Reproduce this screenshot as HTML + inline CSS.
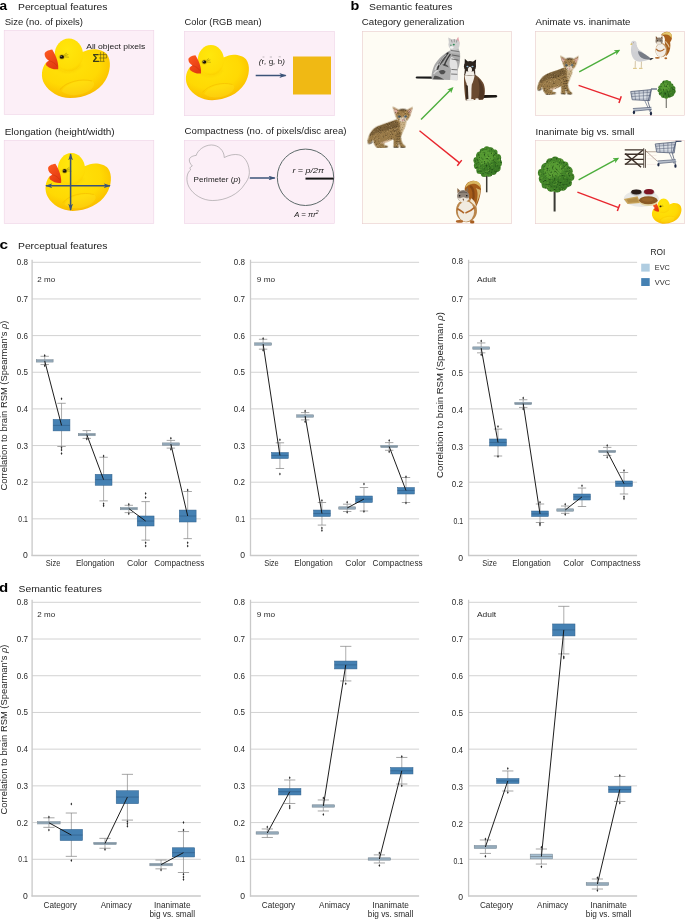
<!DOCTYPE html>
<html lang="en"><head><meta charset="utf-8"><title>Figure</title>
<style>html,body{margin:0;padding:0;background:#fff}body{width:685px;height:919px;overflow:hidden;font-family:"Liberation Sans", sans-serif}svg{display:block;will-change:transform}</style>
</head><body>
<svg width="685" height="919" viewBox="0 0 685 919" font-family='"Liberation Sans", sans-serif'>
<rect width="685" height="919" fill="#fff"/>
<text x="-0.6" y="10" font-size="13.3" textLength="7.6" lengthAdjust="spacingAndGlyphs" font-weight="bold" fill="#000" >a</text>
<text x="18" y="10" font-size="9.8" textLength="89.5" lengthAdjust="spacingAndGlyphs" fill="#222" >Perceptual features</text>
<text x="350.6" y="10" font-size="13.3" textLength="8.8" lengthAdjust="spacingAndGlyphs" font-weight="bold" fill="#000" >b</text>
<text x="369" y="10" font-size="9.8" textLength="83.5" lengthAdjust="spacingAndGlyphs" fill="#222" >Semantic features</text>
<text x="-0.6" y="249.1" font-size="13.5" textLength="8.6" lengthAdjust="spacingAndGlyphs" font-weight="bold" fill="#000" >c</text>
<text x="18" y="248.7" font-size="9.8" textLength="89.5" lengthAdjust="spacingAndGlyphs" fill="#222" >Perceptual features</text>
<text x="-0.9" y="592" font-size="13.5" textLength="9.2" lengthAdjust="spacingAndGlyphs" font-weight="bold" fill="#000" >d</text>
<text x="18.5" y="591.8" font-size="9.8" textLength="83.5" lengthAdjust="spacingAndGlyphs" fill="#222" >Semantic features</text>
<text x="4.7" y="25" font-size="9.3" textLength="78.3" lengthAdjust="spacingAndGlyphs" fill="#222" >Size (no. of pixels)</text>
<text x="184.5" y="25" font-size="9.3" textLength="77" lengthAdjust="spacingAndGlyphs" fill="#222" >Color (RGB mean)</text>
<text x="4.7" y="134.7" font-size="9.3" textLength="110" lengthAdjust="spacingAndGlyphs" fill="#222" >Elongation (height/width)</text>
<text x="184.5" y="134.4" font-size="9.3" textLength="162" lengthAdjust="spacingAndGlyphs" fill="#222" >Compactness (no. of pixels/disc area)</text>
<text x="361.8" y="25" font-size="9.3" textLength="102.5" lengthAdjust="spacingAndGlyphs" fill="#222" >Category generalization</text>
<text x="535.5" y="25" font-size="9.3" textLength="95" lengthAdjust="spacingAndGlyphs" fill="#222" >Animate vs. inanimate</text>
<text x="535.5" y="134.9" font-size="9.3" textLength="99" lengthAdjust="spacingAndGlyphs" fill="#222" >Inanimate big vs. small</text>
<rect x="4.2" y="30.3" width="149.6" height="84" fill="#fceff7" stroke="#efd3e6" stroke-width="0.6"/>
<rect x="184.3" y="31.5" width="150" height="84.2" fill="#fceff7" stroke="#efd3e6" stroke-width="0.6"/>
<rect x="4.2" y="140.3" width="149.6" height="83.2" fill="#fceff7" stroke="#efd3e6" stroke-width="0.6"/>
<rect x="184.3" y="140.3" width="150" height="83.2" fill="#fceff7" stroke="#efd3e6" stroke-width="0.6"/>
<rect x="362.4" y="31.4" width="149.1" height="192.3" fill="#fefcf4" stroke="#e8cccc" stroke-width="0.6"/>
<rect x="535.4" y="31.4" width="149.2" height="83.9" fill="#fefcf4" stroke="#e8cccc" stroke-width="0.6"/>
<rect x="535.4" y="140.4" width="149.2" height="83.3" fill="#fefcf4" stroke="#e8cccc" stroke-width="0.6"/>
<defs>
<radialGradient id="dkG" cx="0.40" cy="0.30" r="0.75">
 <stop offset="0" stop-color="#ffe30a"/><stop offset="0.6" stop-color="#ffd903"/><stop offset="0.88" stop-color="#fbc100"/><stop offset="1" stop-color="#f0a400"/>
</radialGradient>
<radialGradient id="dkH" cx="0.45" cy="0.35" r="0.7">
 <stop offset="0" stop-color="#ffe70c"/><stop offset="0.8" stop-color="#ffdd05"/><stop offset="1" stop-color="#fcd200"/>
</radialGradient>
<linearGradient id="bkG" x1="0" y1="0" x2="0.6" y2="1">
 <stop offset="0" stop-color="#ff5a22"/><stop offset="1" stop-color="#e23a10"/>
</linearGradient>
<radialGradient id="trG" cx="0.42" cy="0.35" r="0.7">
 <stop offset="0" stop-color="#5c9a34"/><stop offset="0.6" stop-color="#3f7d28"/><stop offset="1" stop-color="#2c5f1f"/>
</radialGradient>
<filter id="fur" x="0" y="0" width="100%" height="100%" color-interpolation-filters="sRGB">
 <feTurbulence type="fractalNoise" baseFrequency="0.10" numOctaves="2" seed="4" result="n"/>
 <feColorMatrix in="n" type="matrix" values="0 0 0 0 0.18  0 0 0 0 0.13  0 0 0 0 0.07  0 0 0 -1.6 0.76" result="sp"/>
 <feComposite in="sp" in2="SourceGraphic" operator="in" result="spk"/>
 <feTurbulence type="fractalNoise" baseFrequency="0.09" numOctaves="2" seed="11" result="n2"/>
 <feColorMatrix in="n2" type="matrix" values="0 0 0 0 0.93  0 0 0 0 0.85  0 0 0 0 0.68  0 0 0 -1.6 0.62" result="lt"/>
 <feComposite in="lt" in2="SourceGraphic" operator="in" result="ltk"/>
 <feMerge><feMergeNode in="SourceGraphic"/><feMergeNode in="ltk"/><feMergeNode in="spk"/></feMerge>
</filter>
<filter id="leaf" x="-5%" y="-5%" width="110%" height="110%" color-interpolation-filters="sRGB">
 <feTurbulence type="fractalNoise" baseFrequency="0.55" numOctaves="2" seed="7" result="n"/>
 <feColorMatrix in="n" type="matrix" values="0 0 0 0 0.10  0 0 0 0 0.26  0 0 0 0 0.07  0 0 0 -2.6 1.25" result="sp"/>
 <feComposite in="sp" in2="SourceGraphic" operator="in" result="spk"/>
 <feTurbulence type="fractalNoise" baseFrequency="0.45" numOctaves="2" seed="23" result="n2"/>
 <feColorMatrix in="n2" type="matrix" values="0 0 0 0 0.50  0 0 0 0 0.72  0 0 0 0 0.25  0 0 0 -2.6 1.05" result="lt"/>
 <feComposite in="lt" in2="SourceGraphic" operator="in" result="ltk"/>
 <feMerge><feMergeNode in="SourceGraphic"/><feMergeNode in="ltk"/><feMergeNode in="spk"/></feMerge>
</filter>
<filter id="b1" x="-20%" y="-20%" width="140%" height="140%"><feGaussianBlur stdDeviation="1.2"/></filter>
<filter id="b3" x="-20%" y="-20%" width="140%" height="140%"><feGaussianBlur stdDeviation="3"/></filter>
<filter id="b6" x="-20%" y="-20%" width="140%" height="140%"><feGaussianBlur stdDeviation="6"/></filter>
<marker id="ahB" viewBox="0 0 10 6.6" refX="8.8" refY="3.3" markerWidth="4.8" markerHeight="3.2" orient="auto-start-reverse"><path d="M0,0 L10,3.3 L0,6.6 L2.6,3.3 Z" fill="#3b5378"/></marker>
<marker id="ahG" viewBox="0 0 10 10" refX="7" refY="5" markerWidth="4.4" markerHeight="4.4" orient="auto"><path d="M0,0.5 L10,5 L0,9.5 L2.5,5 Z" fill="#4cae3c"/></marker>

<g id="duck">
 <path d="M110,222 C78,262 72,322 98,368 C130,424 200,466 275,466 C372,466 470,420 516,345 C552,288 560,208 526,164 C500,134 440,124 398,136 L355,152 L300,260 Z" fill="url(#dkG)"/>
 <path d="M215,420 C255,360 350,335 420,350 C455,358 440,395 400,420 C350,450 270,460 215,420 Z" fill="#ffe321" opacity="0.35"/>
 <path d="M205,408 C250,352 350,330 425,350" fill="none" stroke="#f2b705" stroke-width="7" opacity="0.55" filter="url(#b3)"/>
 <ellipse cx="266" cy="170" rx="97" ry="112" fill="url(#dkH)"/>
 <path d="M180,250 C220,300 300,300 352,240" fill="none" stroke="#f5bd00" stroke-width="10" opacity="0.45" filter="url(#b6)"/>
 <path d="M152,134 C122,138 100,150 100,166 C100,186 114,200 130,210 C110,216 104,236 116,246 C136,263 170,273 193,268 C197,238 186,188 152,134 Z" fill="url(#bkG)"/>
 <path d="M130,210 C150,214 172,228 188,250" fill="none" stroke="#c92f0a" stroke-width="5" opacity="0.7"/>
 <ellipse cx="218" cy="184" rx="15" ry="13" fill="#1c1408"/>
 <ellipse cx="218" cy="184" rx="19" ry="16" fill="none" stroke="#8a6a10" stroke-width="3" opacity="0.6"/>
 <circle cx="213" cy="180" r="3.5" fill="#fff" opacity="0.8"/>
 <path d="M236,176 L262,168 M238,184 L266,186 M234,170 L252,158" stroke="#3a2a08" stroke-width="2.5" fill="none" opacity="0.8"/>
</g>
</defs>
<use href="#duck" transform="translate(30.025,30.035) scale(0.14594,0.14595)"/>
<text x="86.2" y="48.8" font-size="7.6" textLength="59" lengthAdjust="spacingAndGlyphs" fill="#222">All object pixels</text>
<text x="92.4" y="61.7" font-size="11.5" font-weight="bold" fill="#3c3c18" textLength="6.8" lengthAdjust="spacingAndGlyphs">Σ</text>
<g stroke="#5a5418" stroke-width="0.6" fill="none"><path d="M99,54.6 H106.6 M99,58 H106.6 M99,61.4 H104.6 M100.6,52.2 V61.4 M103.6,52.2 V61.4 M106.6,54.6 V58"/></g>
<use href="#duck" transform="translate(174.879,37.162) scale(0.13526,0.13514)"/>
<line x1="255.7" y1="75.5" x2="285.7" y2="75.5" stroke="#3b5378" stroke-width="1.5" marker-end="url(#ahB)"/>
<rect x="293" y="56.5" width="38" height="38" fill="#f0b914"/>
<text x="258.8" y="63.6" font-size="7.6" textLength="26.2" lengthAdjust="spacingAndGlyphs" fill="#2a2a2a"><tspan font-style="italic">(</tspan>r<tspan font-style="italic">,</tspan> g<tspan font-style="italic">,</tspan> b<tspan font-style="italic">)</tspan></text>
<path d="M262.6,57 h1.8 M269.8,57 h2.2 M278.6,56.8 h2.2" stroke="#777" stroke-width="0.45"/>
<use href="#duck" transform="translate(34.069,144.877) scale(0.14038,0.14177)"/>
<line x1="70.6" y1="154" x2="70.6" y2="210" stroke="#3b5378" stroke-width="1.5" marker-end="url(#ahB)" marker-start="url(#ahB)"/>
<line x1="46" y1="185.7" x2="110" y2="185.7" stroke="#3b5378" stroke-width="1.5" marker-end="url(#ahB)" marker-start="url(#ahB)"/>
<g transform="translate(176.050,137.105) scale(0.13312,0.13612)" fill="none" stroke="#8a8a8a" stroke-width="4"><path d="M152,134 C160,100 210,58 266,58 C320,58 362,100 362,150 C400,130 440,124 470,130 C500,134 526,164 540,200 C560,260 552,300 516,345 C470,420 372,466 275,466 C200,466 130,424 98,368 C72,322 78,262 110,240 C100,230 104,220 122,212 C106,196 98,180 100,166 C100,150 122,138 152,134 Z"/></g>
<text x="193.6" y="182" font-size="7.6" textLength="47" lengthAdjust="spacingAndGlyphs" fill="#222">Perimeter (<tspan font-style="italic">p</tspan>)</text>
<line x1="249.8" y1="178" x2="274.8" y2="178" stroke="#3b5378" stroke-width="1.5" marker-end="url(#ahB)"/>
<circle cx="305.5" cy="177.3" r="28.2" fill="none" stroke="#5d6a6a" stroke-width="1"/>
<line x1="305.5" y1="178.6" x2="333.6" y2="178.6" stroke="#161616" stroke-width="2"/>
<text x="292.4" y="173.2" font-size="7.6" font-style="italic" textLength="31.5" lengthAdjust="spacingAndGlyphs" fill="#222">r = p/2π</text>
<text x="294.3" y="217.3" font-size="7.6" font-style="italic" textLength="24.3" lengthAdjust="spacingAndGlyphs" fill="#222">A = πr<tspan font-size="5" dy="-3">2</tspan></text>
<use href="#duck" transform="translate(646.723,195.009) scale(0.06346,0.06192)"/>
<defs><g id="kit" filter="url(#fur)">
 <path d="M400,225 C330,255 230,285 170,310 C110,340 70,400 55,470 C45,510 50,530 70,525 C90,520 100,500 115,480 C120,520 140,560 165,580 L235,585 C250,582 300,575 300,560 C295,548 270,545 255,548 C250,535 255,520 265,512 C300,505 340,490 370,470 C372,500 372,540 368,570 L420,578 C435,575 440,565 432,555 L425,500 C440,530 450,560 455,575 L510,578 C525,570 520,555 505,548 C485,540 470,500 460,450 C470,400 510,330 520,290 L525,235 Z" fill="#9a7b49"/>
 <path d="M390,232 C320,258 230,285 170,312 C120,338 85,385 68,440 C120,400 200,370 280,360 C340,350 400,320 440,280 Z" fill="#5f4a2c" opacity="0.55" filter="url(#b6)"/>
 <path d="M200,520 C240,500 300,480 340,470 C330,495 280,515 255,525 Z" fill="#e2c3a8" opacity="0.8" filter="url(#b3)"/>
 <path d="M50,470 C48,500 52,525 68,525 C85,520 95,505 105,490 L112,510 L92,530 L60,535 Z" fill="#2a2014" opacity="0.7"/>
 <path d="M165,575 L235,585 L300,568 L295,578 L170,590 Z" fill="#2e2214" opacity="0.8"/>
 <path d="M370,565 L430,570 L428,582 L372,580 Z M455,568 L515,570 L512,584 L458,582 Z" fill="#2e2214" opacity="0.7"/>
 <path d="M455,250 C490,262 515,262 525,250 C522,300 500,350 470,400 C455,380 445,320 455,250 Z" fill="#d9c29a" opacity="0.75" filter="url(#b3)"/>
 <g stroke="#3a2a16" stroke-width="9" opacity="0.75" fill="none">
  <path d="M405,410 L455,400 M400,440 L455,432 M400,470 L455,465 M405,500 L450,498 M420,530 L465,528"/>
  <path d="M380,330 L440,300 M370,370 L430,345"/>
 </g>
 <polygon points="398,185 358,60 455,112" fill="#a98655"/>
 <polygon points="572,190 609,64 520,112" fill="#a98655"/>
 <polygon points="400,160 372,84 432,118" fill="#e4b0aa"/>
 <polygon points="570,165 597,88 540,120" fill="#e4b0aa"/>
 <ellipse cx="484" cy="172" rx="86" ry="80" fill="#a8844e"/>
 <path d="M430,100 C460,85 510,85 540,100 C520,120 450,120 430,100 Z" fill="#4a3820" opacity="0.8"/>
 <ellipse cx="484" cy="225" rx="45" ry="32" fill="#e8dccb" opacity="0.9"/>
 <ellipse cx="440" cy="186" rx="17" ry="13" fill="#3f6f9a"/>
 <ellipse cx="518" cy="186" rx="17" ry="13" fill="#3f6f9a"/>
 <circle cx="440" cy="186" r="6" fill="#111"/><circle cx="518" cy="186" r="6" fill="#111"/>
 <path d="M470,225 L498,225 L484,244 Z" fill="#d9707c"/>
 <path d="M410,150 L440,165 M555,150 L525,165 M470,120 L470,150 M500,120 L500,150" stroke="#4a3820" stroke-width="6" opacity="0.6"/>
</g></defs>
<defs><g id="sq">
 <path d="M478,500 C520,500 540,450 535,410 C532,385 505,375 480,388 C462,398 458,420 470,440 C485,460 495,480 478,500 Z" fill="#a85e1c"/>
 <path d="M500,385 C520,383 536,395 536,420 C530,410 515,398 498,398 Z" fill="#e6c77a"/>
 <path d="M480,400 C500,410 512,440 505,480" stroke="#6a3510" stroke-width="6" fill="none" opacity="0.6"/>
 <ellipse cx="466" cy="505" rx="40" ry="52" fill="#9a7b5c"/>
 <ellipse cx="462" cy="510" rx="29" ry="44" fill="#f1ece4"/>
 <ellipse cx="455" cy="448" rx="27" ry="25" fill="#8f7c69"/>
 <ellipse cx="455" cy="462" rx="17" ry="12" fill="#e9e1d6"/>
 <polygon points="432,436 428,410 446,428" fill="#7a5a3a"/><polygon points="466,426 476,405 482,432" fill="#7a5a3a"/>
 <circle cx="443" cy="447" r="3.5" fill="#111"/><circle cx="468" cy="447" r="3.5" fill="#111"/>
 <path d="M440,490 C455,500 470,500 486,488" stroke="#b0672a" stroke-width="7" fill="none"/>
 <ellipse cx="440" cy="560" rx="18" ry="7" fill="#b0672a"/><ellipse cx="497" cy="562" rx="14" ry="7" fill="#b0672a"/>
</g></defs>
<defs><g id="cart">
 <path d="M65,188 L300,166 L282,292 L82,282 Z" fill="#c3c9d3"/>
 <path d="M90,205 L270,190 L262,262 L100,258 Z" fill="#dfe3e8" opacity="0.8"/>
 <g stroke="#3d4964" stroke-width="6" fill="none" opacity="0.85">
  <path d="M65,188 L300,166 L282,292 L82,282 Z" stroke-width="9"/>
  <path d="M72,215 L296,196 M76,245 L290,232 M110,184 L120,284 M160,180 L165,286 M210,175 L210,288 M255,170 L250,290"/>
 </g>
 <path d="M295,152 L365,152 L365,164 L300,166 Z" fill="#2f3f5f"/>
 <path d="M300,166 L262,300 L300,430" stroke="#4a5670" stroke-width="9" fill="none"/>
 <path d="M225,290 L285,420" stroke="#5d6a84" stroke-width="8" fill="none"/>
 <path d="M90,382 L300,368 L305,392 L100,412 Z" fill="#b9c1cc"/>
 <path d="M90,382 L300,368 M100,412 L305,392" stroke="#3d4964" stroke-width="7" fill="none"/>
 <ellipse cx="102" cy="426" rx="13" ry="20" fill="#1f2a44"/>
 <ellipse cx="296" cy="440" rx="13" ry="21" fill="#1f2a44"/>
</g></defs>
<use href="#kit" transform="translate(363.560,101.803) scale(0.08089,0.07931)"/>
<line x1="421" y1="119.6" x2="452.2" y2="88.3" stroke="#4cae3c" stroke-width="1.4" marker-end="url(#ahG)"/>
<line x1="419.5" y1="130.7" x2="459.5" y2="162.9" stroke="#e8262e" stroke-width="1.4"/>
<line x1="461.76" y1="160.10" x2="457.24" y2="165.70" stroke="#e8262e" stroke-width="1.5"/>
<g transform="translate(412,32) scale(0.13139)"><path d="M150,338 L35,338 C25,340 25,352 38,354 L155,356 Z" fill="#1a1a1a"/><path d="M300,135 C250,160 200,200 172,250 C150,295 145,340 152,362 L292,366 L296,300 L300,366 L345,368 L348,290 C365,250 370,200 365,150 Z" fill="#a9a9a9"/><path d="M285,150 C240,180 205,225 190,275 C205,262 235,235 255,200 Z M205,300 C222,286 246,286 256,302 C246,326 218,332 205,300 Z M170,335 C190,326 225,350 245,362 L160,360 Z M230,250 C250,240 270,250 280,270 C262,262 245,262 230,250 Z" fill="#3a3a3a" opacity="0.8"/><path d="M275,158 C245,185 222,215 208,250 M292,168 C270,200 255,225 248,250 M232,205 C215,230 200,262 192,290" stroke="#1e1e1e" stroke-width="11" fill="none" opacity="0.8"/><path d="M262,170 C235,195 215,225 205,255 M175,290 C180,270 190,255 200,245 M165,320 C175,300 190,295 200,290" stroke="#ececec" stroke-width="9" fill="none" opacity="0.7"/><path d="M300,190 C330,200 350,230 345,270 L348,366 L296,366 L296,280 C280,250 285,210 300,190 Z" fill="#e2e2e2"/><path d="M305,175 L362,185 M300,205 L355,215 M300,285 L345,288 M298,320 L345,322" stroke="#3a3a3a" stroke-width="7" opacity="0.7"/><path d="M290,118 L352,118 L368,165 L292,160 Z" fill="#bcbcbc"/><path d="M296,140 L360,150" stroke="#444" stroke-width="6" opacity="0.7"/><polygon points="283,95 276,42 318,62" fill="#c9c9c9"/><polygon points="335,62 352,36 364,92" fill="#e3a6ae"/><ellipse cx="320" cy="95" rx="43" ry="42" fill="#cfcfcf"/><path d="M300,60 L305,80 M322,55 L322,78 M342,60 L338,80" stroke="#555" stroke-width="5" opacity="0.7"/><ellipse cx="318" cy="96" rx="8" ry="7" fill="#2d8a55"/><circle cx="296" cy="100" r="5" fill="#2d8a55"/><ellipse cx="302" cy="118" rx="14" ry="10" fill="#f2f2f2"/></g>
<g transform="translate(412,32) scale(0.13139)"><path d="M540,480 L640,480 C652,482 652,496 640,498 L540,502 Z" fill="#1c1814"/><path d="M398,320 C392,380 400,460 408,520 L540,516 C560,480 560,420 540,385 C520,350 490,330 470,320 Z" fill="#6a4a30"/><path d="M500,350 C540,390 555,450 545,510 L500,515 C520,460 515,400 500,350 Z" fill="#4a3222" opacity="0.8"/><path d="M400,315 C420,335 460,335 478,315 C475,350 465,380 455,400 C450,440 455,480 450,518 L425,518 C425,470 420,420 415,390 C405,370 400,340 400,315 Z" fill="#f3efe8"/><path d="M408,400 L412,520 L430,520 L425,410 Z" fill="#3a2a1e"/><path d="M402,285 L480,285 L482,330 L398,330 Z" fill="#3a2c22"/><path d="M415,295 L468,295 L476,328 L404,328 Z" fill="#f3efe8"/><polygon points="400,260 402,203 432,232" fill="#231c17"/><polygon points="455,232 488,210 484,268" fill="#231c17"/><ellipse cx="441" cy="262" rx="46" ry="42" fill="#2c241e"/><path d="M428,275 C435,262 447,262 454,275 C462,295 452,308 441,308 C430,308 420,295 428,275 Z" fill="#f3efe8"/><ellipse cx="422" cy="262" rx="8" ry="6" fill="#9cc3dc"/><ellipse cx="460" cy="262" rx="8" ry="6" fill="#9cc3dc"/><ellipse cx="428" cy="516" rx="14" ry="7" fill="#f3efe8"/><ellipse cx="458" cy="516" rx="14" ry="7" fill="#f3efe8"/><ellipse cx="495" cy="512" rx="14" ry="7" fill="#f3efe8"/></g>
<rect x="485.95" y="161.70" width="1.5" height="30.60" fill="#3a3a34"/>
<g transform="translate(487.8,161.7)" filter="url(#leaf)">
<ellipse cx="0" cy="1.87" rx="12.56" ry="11.86" fill="#4a8e2c"/>
<ellipse cx="0" cy="-4.68" rx="9.05" ry="9.67" fill="#4a8e2c"/>
<ellipse cx="10.47" cy="1.20" rx="3.71" ry="3.97" fill="#44862a"/>
<ellipse cx="9.10" cy="6.03" rx="3.80" ry="4.06" fill="#44862a"/>
<ellipse cx="5.83" cy="9.80" rx="3.02" ry="3.22" fill="#44862a"/>
<ellipse cx="1.17" cy="10.60" rx="4.14" ry="4.43" fill="#44862a"/>
<ellipse cx="-3.78" cy="11.75" rx="3.26" ry="3.49" fill="#44862a"/>
<ellipse cx="-7.82" cy="8.45" rx="3.61" ry="3.85" fill="#44862a"/>
<ellipse cx="-10.28" cy="3.91" rx="3.62" ry="3.86" fill="#44862a"/>
<ellipse cx="-11.20" cy="-1.30" rx="3.14" ry="3.35" fill="#44862a"/>
<ellipse cx="-7.68" cy="-5.76" rx="4.19" ry="4.47" fill="#44862a"/>
<ellipse cx="-4.35" cy="-9.52" rx="4.00" ry="4.28" fill="#44862a"/>
<ellipse cx="-0.96" cy="-12.34" rx="3.01" ry="3.22" fill="#44862a"/>
<ellipse cx="2.45" cy="-10.50" rx="3.78" ry="4.04" fill="#44862a"/>
<ellipse cx="6.80" cy="-8.96" rx="2.97" ry="3.17" fill="#44862a"/>
<ellipse cx="9.75" cy="-3.94" rx="3.61" ry="3.86" fill="#44862a"/>
<ellipse cx="-2.19" cy="-3.90" rx="7.30" ry="7.80" fill="#5da236" opacity="0.7"/>
<ellipse cx="2.92" cy="6.24" rx="8.76" ry="6.55" fill="#2f6a20" opacity="0.45"/>
</g>
<g transform="translate(445,140) scale(0.10219)"><path d="M195,500 C185,450 215,405 265,400 C320,395 360,430 352,490 C345,560 325,620 300,660 L235,640 C250,590 230,540 195,500 Z" fill="#a55c1a"/><path d="M200,470 C200,430 235,402 275,400 C325,398 358,432 352,480 C340,445 300,425 265,430 C235,435 212,452 200,470 Z" fill="#d8b45e"/><path d="M300,470 C325,500 325,560 300,640 C320,590 345,540 348,490 Z" fill="#dcc07a" opacity="0.9"/><path d="M245,450 C280,470 290,540 270,600" stroke="#6a3510" stroke-width="22" fill="none" opacity="0.55"/><ellipse cx="210" cy="692" rx="103" ry="112" fill="#b9854a"/><ellipse cx="205" cy="700" rx="80" ry="100" fill="#f1ebe0"/><path d="M255,570 C285,590 305,620 300,650 C280,630 262,610 245,600 Z" fill="#f3e6cf"/><polygon points="122,520 120,470 150,500" fill="#8a6a4a"/><polygon points="200,492 222,465 232,512" fill="#8a6a4a"/><ellipse cx="178" cy="548" rx="60" ry="58" fill="#8f8378"/><path d="M125,560 C135,600 165,615 180,615 C200,615 228,600 235,560 C215,585 200,560 180,560 C160,560 145,585 125,560 Z" fill="#efe8dc"/><path d="M135,520 C150,500 205,500 222,520 C200,512 160,512 135,520 Z" fill="#5f5650"/><circle cx="143" cy="545" r="8" fill="#141414"/><circle cx="213" cy="545" r="8" fill="#141414"/><path d="M172,575 L186,575 L179,600 Z" fill="#5a3a2a"/><path d="M120,670 C150,690 175,705 185,715 M290,660 C260,690 230,705 200,715" stroke="#b0672a" stroke-width="16" fill="none"/><ellipse cx="142" cy="797" rx="36" ry="13" fill="#b0672a"/><ellipse cx="266" cy="802" rx="22" ry="16" fill="#a85e20"/></g>
<use href="#kit" transform="translate(533.665,51.105) scale(0.07411,0.07452)"/>
<line x1="579.2" y1="71.8" x2="618.7" y2="50.7" stroke="#4cae3c" stroke-width="1.4" marker-end="url(#ahG)"/>
<line x1="578.6" y1="85.3" x2="620.1" y2="99.6" stroke="#e8262e" stroke-width="1.4"/>
<line x1="621.27" y1="96.20" x2="618.93" y2="103.00" stroke="#e8262e" stroke-width="1.5"/>
<g transform="translate(625,30) scale(0.08759)"><path d="M118,355 L116,432 M188,358 L186,432" stroke="#b8a070" stroke-width="7"/><path d="M92,438 L135,438 M160,438 L200,438" stroke="#c9a648" stroke-width="8"/><path d="M255,318 L328,322 L290,345 Z" fill="#1e1e22"/><path d="M72,190 C60,250 75,320 130,355 C180,372 240,352 290,335 C250,290 200,250 160,225 C140,200 135,180 130,165 Z" fill="#cfd0d4"/><path d="M150,240 C200,255 260,295 300,330 C260,345 200,335 170,300 C155,280 148,260 150,240 Z" fill="#777c86"/><ellipse cx="100" cy="152" rx="32" ry="30" fill="#d6d6d8"/><path d="M72,190 C75,170 80,160 90,150 L132,165 C135,190 140,205 160,225 L100,260 Z" fill="#d3d3d6"/><path d="M55,162 L82,150 L82,168 Z" fill="#d4b030"/><circle cx="98" cy="146" r="4" fill="#5a2a2a"/></g>
<g transform="translate(625,30) scale(0.08759)"><path d="M470,300 C510,260 525,200 515,140 C545,100 545,50 510,28 C480,10 430,22 410,60 C440,60 460,80 455,120 C450,160 470,200 470,300 Z" fill="#a85f1c"/><path d="M420,50 C440,22 490,12 520,35 C540,55 538,80 530,95 C520,60 480,40 440,55 Z" fill="#e4c86e"/><path d="M462,130 C480,150 500,170 505,200" stroke="#f0e0c0" stroke-width="12" fill="none" opacity="0.8"/><ellipse cx="415" cy="230" rx="68" ry="82" fill="#b98a55"/><ellipse cx="408" cy="232" rx="59" ry="75" fill="#f2ede5"/><ellipse cx="390" cy="125" rx="42" ry="40" fill="#8c7c6c"/><ellipse cx="385" cy="150" rx="28" ry="18" fill="#e8e0d4"/><polygon points="352,105 352,68 375,95" fill="#7a5232"/><polygon points="408,92 425,65 432,102" fill="#7a5232"/><circle cx="370" cy="120" r="5" fill="#111"/><circle cx="410" cy="118" r="5" fill="#111"/><path d="M355,215 C380,250 420,250 450,215" stroke="#b0672a" stroke-width="12" fill="none"/><ellipse cx="370" cy="318" rx="28" ry="10" fill="#b0672a"/><ellipse cx="466" cy="322" rx="16" ry="12" fill="#b0672a"/></g>
<use href="#cart" transform="translate(625.007,75.062) scale(0.08759)"/>
<rect x="665.80" y="89.40" width="0.8" height="18.60" fill="#3a3a34"/>
<g transform="translate(666.6,89.4)" filter="url(#leaf)">
<ellipse cx="0" cy="1.12" rx="8.00" ry="7.07" fill="#4a8e2c"/>
<ellipse cx="0" cy="-2.79" rx="5.77" ry="5.77" fill="#4a8e2c"/>
<ellipse cx="6.54" cy="1.88" rx="2.55" ry="2.55" fill="#44862a"/>
<ellipse cx="4.91" cy="4.38" rx="2.74" ry="2.74" fill="#44862a"/>
<ellipse cx="2.35" cy="5.67" rx="2.72" ry="2.72" fill="#44862a"/>
<ellipse cx="-0.39" cy="7.15" rx="2.29" ry="2.29" fill="#44862a"/>
<ellipse cx="-3.36" cy="6.09" rx="2.46" ry="2.46" fill="#44862a"/>
<ellipse cx="-5.85" cy="4.16" rx="1.97" ry="1.97" fill="#44862a"/>
<ellipse cx="-7.00" cy="1.20" rx="2.09" ry="2.09" fill="#44862a"/>
<ellipse cx="-5.93" cy="-1.78" rx="2.39" ry="2.39" fill="#44862a"/>
<ellipse cx="-4.34" cy="-4.63" rx="2.06" ry="2.06" fill="#44862a"/>
<ellipse cx="-1.86" cy="-6.11" rx="2.71" ry="2.71" fill="#44862a"/>
<ellipse cx="0.28" cy="-7.33" rx="2.01" ry="2.01" fill="#44862a"/>
<ellipse cx="2.64" cy="-6.35" rx="1.99" ry="1.99" fill="#44862a"/>
<ellipse cx="4.85" cy="-3.97" rx="1.98" ry="1.98" fill="#44862a"/>
<ellipse cx="6.08" cy="-1.06" rx="2.67" ry="2.67" fill="#44862a"/>
<ellipse cx="-1.40" cy="-2.33" rx="4.65" ry="4.65" fill="#5da236" opacity="0.7"/>
<ellipse cx="1.86" cy="3.72" rx="5.58" ry="3.91" fill="#2f6a20" opacity="0.45"/>
</g>
<rect x="553.60" y="175.00" width="2.0" height="36.50" fill="#3a3a34"/>
<g transform="translate(556,175)" filter="url(#leaf)">
<ellipse cx="0" cy="2.21" rx="16.00" ry="13.98" fill="#4a8e2c"/>
<ellipse cx="0" cy="-5.52" rx="11.53" ry="11.41" fill="#4a8e2c"/>
<ellipse cx="14.36" cy="2.08" rx="4.00" ry="3.96" fill="#44862a"/>
<ellipse cx="12.03" cy="8.04" rx="3.85" ry="3.81" fill="#44862a"/>
<ellipse cx="6.72" cy="11.40" rx="4.40" ry="4.35" fill="#44862a"/>
<ellipse cx="1.03" cy="12.87" rx="4.66" ry="4.61" fill="#44862a"/>
<ellipse cx="-4.78" cy="12.21" rx="4.53" ry="4.48" fill="#44862a"/>
<ellipse cx="-10.47" cy="9.69" rx="3.89" ry="3.85" fill="#44862a"/>
<ellipse cx="-12.00" cy="3.72" rx="5.26" ry="5.20" fill="#44862a"/>
<ellipse cx="-13.97" cy="-2.06" rx="4.14" ry="4.09" fill="#44862a"/>
<ellipse cx="-9.37" cy="-7.17" rx="5.48" ry="5.42" fill="#44862a"/>
<ellipse cx="-5.54" cy="-12.38" rx="4.46" ry="4.41" fill="#44862a"/>
<ellipse cx="-0.83" cy="-14.77" rx="3.81" ry="3.77" fill="#44862a"/>
<ellipse cx="3.59" cy="-12.54" rx="4.26" ry="4.21" fill="#44862a"/>
<ellipse cx="8.57" cy="-9.55" rx="3.94" ry="3.90" fill="#44862a"/>
<ellipse cx="11.50" cy="-3.74" rx="5.24" ry="5.18" fill="#44862a"/>
<ellipse cx="-2.79" cy="-4.60" rx="9.30" ry="9.20" fill="#5da236" opacity="0.7"/>
<ellipse cx="3.72" cy="7.36" rx="11.16" ry="7.73" fill="#2f6a20" opacity="0.45"/>
</g>
<line x1="578.6" y1="179.8" x2="617.6" y2="158.7" stroke="#4cae3c" stroke-width="1.4" marker-end="url(#ahG)"/>
<line x1="577.4" y1="192.2" x2="618.6" y2="207.6" stroke="#e8262e" stroke-width="1.4"/>
<line x1="619.86" y1="204.23" x2="617.34" y2="210.97" stroke="#e8262e" stroke-width="1.5"/>
<g transform="translate(620,136) scale(0.09489)" stroke="#3d3028" fill="none"><path d="M50,146 H250 M50,192 H250 M50,246 H250 M50,296 H250" stroke-width="15"/><path d="M250,128 V336 M268,140 V336" stroke-width="9"/><path d="M56,186 L222,330 M56,300 L240,150" stroke-width="15"/><path d="M265,150 L392,265 M265,166 H382" stroke="#6a4a3a" stroke-width="5"/><path d="M285,205 H385 M285,240 H385 M285,300 H385" stroke="#e5c8c8" stroke-width="3"/></g>
<use href="#cart" transform="translate(649.507,127.462) scale(0.08759)"/>
<g transform="translate(620,182) scale(0.09489)"><ellipse cx="225" cy="175" rx="185" ry="88" fill="#e9e9e6"/><ellipse cx="172" cy="112" rx="62" ry="33" fill="#bdbdbd"/><ellipse cx="172" cy="106" rx="55" ry="26" fill="#2a1d18"/><ellipse cx="305" cy="108" rx="60" ry="35" fill="#c4c4c4"/><ellipse cx="305" cy="102" rx="52" ry="28" fill="#7d1424"/><path d="M40,178 L185,150 L215,222 L80,232 Z" fill="#c9a55c"/><path d="M70,185 L180,165 L195,210 L90,218 Z" fill="#a8813c" opacity="0.6"/><ellipse cx="300" cy="205" rx="98" ry="48" fill="#e3d5a6"/><ellipse cx="298" cy="192" rx="98" ry="42" fill="#8a5a25"/><ellipse cx="290" cy="185" rx="60" ry="22" fill="#a06a2c" opacity="0.7"/></g>
<line x1="32.1" x2="200.8" y1="518.85" y2="518.85" stroke="#d2d2d2" stroke-width="1"/>
<line x1="32.1" x2="200.8" y1="482.20" y2="482.20" stroke="#d2d2d2" stroke-width="1"/>
<line x1="32.1" x2="200.8" y1="445.55" y2="445.55" stroke="#d2d2d2" stroke-width="1"/>
<line x1="32.1" x2="200.8" y1="408.90" y2="408.90" stroke="#d2d2d2" stroke-width="1"/>
<line x1="32.1" x2="200.8" y1="372.25" y2="372.25" stroke="#d2d2d2" stroke-width="1"/>
<line x1="32.1" x2="200.8" y1="335.60" y2="335.60" stroke="#d2d2d2" stroke-width="1"/>
<line x1="32.1" x2="200.8" y1="298.95" y2="298.95" stroke="#d2d2d2" stroke-width="1"/>
<line x1="32.1" x2="200.8" y1="262.30" y2="262.30" stroke="#d2d2d2" stroke-width="1"/>
<line x1="32.1" x2="32.1" y1="259.80" y2="556.10" stroke="#c9c9c9" stroke-width="1.3"/>
<line x1="31.5" x2="200.8" y1="555.50" y2="555.50" stroke="#c9c9c9" stroke-width="1.3"/>
<text x="27.9" y="558.45" font-size="8.2" textLength="4.8" lengthAdjust="spacingAndGlyphs" text-anchor="end" fill="#2a2a2a" >0</text>
<text x="27.9" y="521.8" font-size="8.2" textLength="9.6" lengthAdjust="spacingAndGlyphs" text-anchor="end" fill="#2a2a2a" >0.1</text>
<text x="27.9" y="485.15" font-size="8.2" textLength="11.2" lengthAdjust="spacingAndGlyphs" text-anchor="end" fill="#2a2a2a" >0.2</text>
<text x="27.9" y="448.5" font-size="8.2" textLength="11.2" lengthAdjust="spacingAndGlyphs" text-anchor="end" fill="#2a2a2a" >0.3</text>
<text x="27.9" y="411.85" font-size="8.2" textLength="11.2" lengthAdjust="spacingAndGlyphs" text-anchor="end" fill="#2a2a2a" >0.4</text>
<text x="27.9" y="375.2" font-size="8.2" textLength="11.2" lengthAdjust="spacingAndGlyphs" text-anchor="end" fill="#2a2a2a" >0.5</text>
<text x="27.9" y="338.55" font-size="8.2" textLength="11.2" lengthAdjust="spacingAndGlyphs" text-anchor="end" fill="#2a2a2a" >0.6</text>
<text x="27.9" y="301.9" font-size="8.2" textLength="11.2" lengthAdjust="spacingAndGlyphs" text-anchor="end" fill="#2a2a2a" >0.7</text>
<text x="27.9" y="265.25" font-size="8.2" textLength="11.2" lengthAdjust="spacingAndGlyphs" text-anchor="end" fill="#2a2a2a" >0.8</text>
<text x="37.3" y="281.8" font-size="8.0" textLength="17.8" lengthAdjust="spacingAndGlyphs" fill="#2a2a2a" >2 mo</text>
<text x="53.12" y="566.4" font-size="8.2" textLength="14.6" lengthAdjust="spacingAndGlyphs" text-anchor="middle" fill="#2a2a2a" >Size</text>
<line x1="44.71" x2="44.71" y1="356.31" y2="364.55" stroke="#808080" stroke-width="0.65"/>
<line x1="40.51" x2="48.92" y1="364.55" y2="364.55" stroke="#808080" stroke-width="0.7"/>
<line x1="40.51" x2="48.92" y1="356.31" y2="356.31" stroke="#808080" stroke-width="0.7"/>
<rect x="36.30" y="359.68" width="16.82" height="2.42" fill="#a6c0d3" stroke="#74828d" stroke-width="0.5"/>
<line x1="36.30" x2="53.12" y1="360.89" y2="360.89" stroke="#74828d" stroke-width="0.7"/>
<path d="M44.71,353.89 l0.85,1.5 l-0.85,1.5 l-0.85,-1.5 Z" fill="#2a2a2a"/>
<path d="M44.71,364.15 l0.85,1.5 l-0.85,1.5 l-0.85,-1.5 Z" fill="#2a2a2a"/>
<line x1="61.54" x2="61.54" y1="403.29" y2="446.50" stroke="#808080" stroke-width="0.65"/>
<line x1="57.33" x2="65.74" y1="446.50" y2="446.50" stroke="#808080" stroke-width="0.7"/>
<line x1="57.33" x2="65.74" y1="403.29" y2="403.29" stroke="#808080" stroke-width="0.7"/>
<rect x="53.12" y="419.42" width="16.82" height="11.47" fill="#4581b3" stroke="#31608b" stroke-width="0.5"/>
<line x1="53.12" x2="69.95" y1="425.39" y2="425.39" stroke="#31608b" stroke-width="0.7"/>
<path d="M61.54,397.32 l0.85,1.5 l-0.85,1.5 l-0.85,-1.5 Z" fill="#2a2a2a"/>
<path d="M61.54,446.25 l0.85,1.5 l-0.85,1.5 l-0.85,-1.5 Z" fill="#2a2a2a"/>
<path d="M61.54,448.45 l0.85,1.5 l-0.85,1.5 l-0.85,-1.5 Z" fill="#2a2a2a"/>
<path d="M61.54,452.11 l0.85,1.5 l-0.85,1.5 l-0.85,-1.5 Z" fill="#2a2a2a"/>
<text x="95.18" y="566.4" font-size="8.2" textLength="38.5" lengthAdjust="spacingAndGlyphs" text-anchor="middle" fill="#2a2a2a" >Elongation</text>
<line x1="86.77" x2="86.77" y1="430.60" y2="438.40" stroke="#808080" stroke-width="0.65"/>
<line x1="82.56" x2="90.97" y1="438.40" y2="438.40" stroke="#808080" stroke-width="0.7"/>
<line x1="82.56" x2="90.97" y1="430.60" y2="430.60" stroke="#808080" stroke-width="0.7"/>
<rect x="78.36" y="433.35" width="16.82" height="2.42" fill="#a6c0d3" stroke="#74828d" stroke-width="0.5"/>
<line x1="78.36" x2="95.18" y1="434.56" y2="434.56" stroke="#74828d" stroke-width="0.7"/>
<path d="M86.77,437.45 l0.85,1.5 l-0.85,1.5 l-0.85,-1.5 Z" fill="#2a2a2a"/>
<line x1="103.59" x2="103.59" y1="457.28" y2="500.89" stroke="#808080" stroke-width="0.65"/>
<line x1="99.38" x2="107.79" y1="500.89" y2="500.89" stroke="#808080" stroke-width="0.7"/>
<line x1="99.38" x2="107.79" y1="457.28" y2="457.28" stroke="#808080" stroke-width="0.7"/>
<rect x="95.18" y="474.32" width="16.82" height="11.00" fill="#4581b3" stroke="#31608b" stroke-width="0.5"/>
<line x1="95.18" x2="112.00" y1="479.63" y2="479.63" stroke="#31608b" stroke-width="0.7"/>
<path d="M103.59,454.50 l0.85,1.5 l-0.85,1.5 l-0.85,-1.5 Z" fill="#2a2a2a"/>
<path d="M103.59,502.32 l0.85,1.5 l-0.85,1.5 l-0.85,-1.5 Z" fill="#2a2a2a"/>
<path d="M103.59,504.16 l0.85,1.5 l-0.85,1.5 l-0.85,-1.5 Z" fill="#2a2a2a"/>
<text x="137.23" y="566.4" font-size="8.2" textLength="20.5" lengthAdjust="spacingAndGlyphs" text-anchor="middle" fill="#2a2a2a" >Color</text>
<line x1="128.82" x2="128.82" y1="505.29" y2="512.62" stroke="#808080" stroke-width="0.65"/>
<line x1="124.61" x2="133.02" y1="512.62" y2="512.62" stroke="#808080" stroke-width="0.7"/>
<line x1="124.61" x2="133.02" y1="505.29" y2="505.29" stroke="#808080" stroke-width="0.7"/>
<rect x="120.41" y="507.38" width="16.82" height="2.42" fill="#a6c0d3" stroke="#74828d" stroke-width="0.5"/>
<line x1="120.41" x2="137.23" y1="508.59" y2="508.59" stroke="#74828d" stroke-width="0.7"/>
<path d="M128.82,502.69 l0.85,1.5 l-0.85,1.5 l-0.85,-1.5 Z" fill="#2a2a2a"/>
<path d="M128.82,512.22 l0.85,1.5 l-0.85,1.5 l-0.85,-1.5 Z" fill="#2a2a2a"/>
<line x1="145.64" x2="145.64" y1="501.62" y2="540.11" stroke="#808080" stroke-width="0.65"/>
<line x1="141.43" x2="149.84" y1="540.11" y2="540.11" stroke="#808080" stroke-width="0.7"/>
<line x1="141.43" x2="149.84" y1="501.62" y2="501.62" stroke="#808080" stroke-width="0.7"/>
<rect x="137.23" y="515.99" width="16.82" height="10.01" fill="#4581b3" stroke="#31608b" stroke-width="0.5"/>
<line x1="137.23" x2="154.05" y1="521.05" y2="521.05" stroke="#31608b" stroke-width="0.7"/>
<path d="M145.64,492.06 l0.85,1.5 l-0.85,1.5 l-0.85,-1.5 Z" fill="#2a2a2a"/>
<path d="M145.64,496.09 l0.85,1.5 l-0.85,1.5 l-0.85,-1.5 Z" fill="#2a2a2a"/>
<path d="M145.64,541.17 l0.85,1.5 l-0.85,1.5 l-0.85,-1.5 Z" fill="#2a2a2a"/>
<path d="M145.64,544.47 l0.85,1.5 l-0.85,1.5 l-0.85,-1.5 Z" fill="#2a2a2a"/>
<text x="179.28" y="566.4" font-size="8.2" textLength="50" lengthAdjust="spacingAndGlyphs" text-anchor="middle" fill="#2a2a2a" >Compactness</text>
<line x1="170.87" x2="170.87" y1="440.42" y2="448.12" stroke="#808080" stroke-width="0.65"/>
<line x1="166.66" x2="175.07" y1="448.12" y2="448.12" stroke="#808080" stroke-width="0.7"/>
<line x1="166.66" x2="175.07" y1="440.42" y2="440.42" stroke="#808080" stroke-width="0.7"/>
<rect x="162.46" y="442.87" width="16.82" height="2.42" fill="#a6c0d3" stroke="#74828d" stroke-width="0.5"/>
<line x1="162.46" x2="179.28" y1="444.08" y2="444.08" stroke="#74828d" stroke-width="0.7"/>
<path d="M170.87,436.72 l0.85,1.5 l-0.85,1.5 l-0.85,-1.5 Z" fill="#2a2a2a"/>
<path d="M170.87,447.72 l0.85,1.5 l-0.85,1.5 l-0.85,-1.5 Z" fill="#2a2a2a"/>
<line x1="187.69" x2="187.69" y1="491.51" y2="538.64" stroke="#808080" stroke-width="0.65"/>
<line x1="183.48" x2="191.89" y1="538.64" y2="538.64" stroke="#808080" stroke-width="0.7"/>
<line x1="183.48" x2="191.89" y1="491.51" y2="491.51" stroke="#808080" stroke-width="0.7"/>
<rect x="179.28" y="510.05" width="16.82" height="11.95" fill="#4581b3" stroke="#31608b" stroke-width="0.5"/>
<line x1="179.28" x2="196.09" y1="515.99" y2="515.99" stroke="#31608b" stroke-width="0.7"/>
<path d="M187.69,488.51 l0.85,1.5 l-0.85,1.5 l-0.85,-1.5 Z" fill="#2a2a2a"/>
<path d="M187.69,541.17 l0.85,1.5 l-0.85,1.5 l-0.85,-1.5 Z" fill="#2a2a2a"/>
<path d="M187.69,544.47 l0.85,1.5 l-0.85,1.5 l-0.85,-1.5 Z" fill="#2a2a2a"/>
<line x1="44.71" y1="360.89" x2="61.54" y2="425.39" stroke="#111" stroke-width="0.95"/>
<line x1="86.77" y1="434.56" x2="103.59" y2="479.63" stroke="#111" stroke-width="0.95"/>
<line x1="128.82" y1="508.59" x2="145.64" y2="521.05" stroke="#111" stroke-width="0.95"/>
<line x1="170.87" y1="444.08" x2="187.69" y2="515.99" stroke="#111" stroke-width="0.95"/>
<line x1="250.5" x2="419.1" y1="518.85" y2="518.85" stroke="#d2d2d2" stroke-width="1"/>
<line x1="250.5" x2="419.1" y1="482.20" y2="482.20" stroke="#d2d2d2" stroke-width="1"/>
<line x1="250.5" x2="419.1" y1="445.55" y2="445.55" stroke="#d2d2d2" stroke-width="1"/>
<line x1="250.5" x2="419.1" y1="408.90" y2="408.90" stroke="#d2d2d2" stroke-width="1"/>
<line x1="250.5" x2="419.1" y1="372.25" y2="372.25" stroke="#d2d2d2" stroke-width="1"/>
<line x1="250.5" x2="419.1" y1="335.60" y2="335.60" stroke="#d2d2d2" stroke-width="1"/>
<line x1="250.5" x2="419.1" y1="298.95" y2="298.95" stroke="#d2d2d2" stroke-width="1"/>
<line x1="250.5" x2="419.1" y1="262.30" y2="262.30" stroke="#d2d2d2" stroke-width="1"/>
<line x1="250.5" x2="250.5" y1="259.80" y2="556.10" stroke="#c9c9c9" stroke-width="1.3"/>
<line x1="249.9" x2="419.1" y1="555.50" y2="555.50" stroke="#c9c9c9" stroke-width="1.3"/>
<text x="245.0" y="558.45" font-size="8.2" textLength="4.8" lengthAdjust="spacingAndGlyphs" text-anchor="end" fill="#2a2a2a" >0</text>
<text x="245.0" y="521.8" font-size="8.2" textLength="9.6" lengthAdjust="spacingAndGlyphs" text-anchor="end" fill="#2a2a2a" >0.1</text>
<text x="245.0" y="485.15" font-size="8.2" textLength="11.2" lengthAdjust="spacingAndGlyphs" text-anchor="end" fill="#2a2a2a" >0.2</text>
<text x="245.0" y="448.5" font-size="8.2" textLength="11.2" lengthAdjust="spacingAndGlyphs" text-anchor="end" fill="#2a2a2a" >0.3</text>
<text x="245.0" y="411.85" font-size="8.2" textLength="11.2" lengthAdjust="spacingAndGlyphs" text-anchor="end" fill="#2a2a2a" >0.4</text>
<text x="245.0" y="375.2" font-size="8.2" textLength="11.2" lengthAdjust="spacingAndGlyphs" text-anchor="end" fill="#2a2a2a" >0.5</text>
<text x="245.0" y="338.55" font-size="8.2" textLength="11.2" lengthAdjust="spacingAndGlyphs" text-anchor="end" fill="#2a2a2a" >0.6</text>
<text x="245.0" y="301.9" font-size="8.2" textLength="11.2" lengthAdjust="spacingAndGlyphs" text-anchor="end" fill="#2a2a2a" >0.7</text>
<text x="245.0" y="265.25" font-size="8.2" textLength="11.2" lengthAdjust="spacingAndGlyphs" text-anchor="end" fill="#2a2a2a" >0.8</text>
<text x="256.8" y="281.8" font-size="8.0" textLength="18.3" lengthAdjust="spacingAndGlyphs" fill="#2a2a2a" >9 mo</text>
<text x="271.51" y="566.4" font-size="8.2" textLength="14.6" lengthAdjust="spacingAndGlyphs" text-anchor="middle" fill="#2a2a2a" >Size</text>
<line x1="263.11" x2="263.11" y1="339.27" y2="349.16" stroke="#808080" stroke-width="0.65"/>
<line x1="258.90" x2="267.31" y1="349.16" y2="349.16" stroke="#808080" stroke-width="0.7"/>
<line x1="258.90" x2="267.31" y1="339.27" y2="339.27" stroke="#808080" stroke-width="0.7"/>
<rect x="254.70" y="342.82" width="16.81" height="2.42" fill="#a6c0d3" stroke="#74828d" stroke-width="0.5"/>
<line x1="254.70" x2="271.51" y1="344.03" y2="344.03" stroke="#74828d" stroke-width="0.7"/>
<path d="M263.11,337.03 l0.85,1.5 l-0.85,1.5 l-0.85,-1.5 Z" fill="#2a2a2a"/>
<path d="M263.11,348.76 l0.85,1.5 l-0.85,1.5 l-0.85,-1.5 Z" fill="#2a2a2a"/>
<line x1="279.92" x2="279.92" y1="442.80" y2="468.49" stroke="#808080" stroke-width="0.65"/>
<line x1="275.72" x2="284.12" y1="468.49" y2="468.49" stroke="#808080" stroke-width="0.7"/>
<line x1="275.72" x2="284.12" y1="442.80" y2="442.80" stroke="#808080" stroke-width="0.7"/>
<rect x="271.51" y="452.51" width="16.81" height="6.05" fill="#4581b3" stroke="#31608b" stroke-width="0.5"/>
<line x1="271.51" x2="288.32" y1="455.45" y2="455.45" stroke="#31608b" stroke-width="0.7"/>
<path d="M279.92,438.19 l0.85,1.5 l-0.85,1.5 l-0.85,-1.5 Z" fill="#2a2a2a"/>
<path d="M279.92,472.49 l0.85,1.5 l-0.85,1.5 l-0.85,-1.5 Z" fill="#2a2a2a"/>
<text x="313.54" y="566.4" font-size="8.2" textLength="38.5" lengthAdjust="spacingAndGlyphs" text-anchor="middle" fill="#2a2a2a" >Elongation</text>
<line x1="305.13" x2="305.13" y1="412.57" y2="419.89" stroke="#808080" stroke-width="0.65"/>
<line x1="300.93" x2="309.34" y1="419.89" y2="419.89" stroke="#808080" stroke-width="0.7"/>
<line x1="300.93" x2="309.34" y1="412.57" y2="412.57" stroke="#808080" stroke-width="0.7"/>
<rect x="296.73" y="414.80" width="16.81" height="2.42" fill="#a6c0d3" stroke="#74828d" stroke-width="0.5"/>
<line x1="296.73" x2="313.54" y1="416.01" y2="416.01" stroke="#74828d" stroke-width="0.7"/>
<path d="M305.13,409.60 l0.85,1.5 l-0.85,1.5 l-0.85,-1.5 Z" fill="#2a2a2a"/>
<path d="M305.13,420.23 l0.85,1.5 l-0.85,1.5 l-0.85,-1.5 Z" fill="#2a2a2a"/>
<line x1="321.94" x2="321.94" y1="502.50" y2="525.08" stroke="#808080" stroke-width="0.65"/>
<line x1="317.74" x2="326.14" y1="525.08" y2="525.08" stroke="#808080" stroke-width="0.7"/>
<line x1="317.74" x2="326.14" y1="502.50" y2="502.50" stroke="#808080" stroke-width="0.7"/>
<rect x="313.54" y="510.05" width="16.81" height="6.45" fill="#4581b3" stroke="#31608b" stroke-width="0.5"/>
<line x1="313.54" x2="330.35" y1="513.50" y2="513.50" stroke="#31608b" stroke-width="0.7"/>
<path d="M321.94,499.03 l0.85,1.5 l-0.85,1.5 l-0.85,-1.5 Z" fill="#2a2a2a"/>
<path d="M321.94,526.51 l0.85,1.5 l-0.85,1.5 l-0.85,-1.5 Z" fill="#2a2a2a"/>
<path d="M321.94,529.08 l0.85,1.5 l-0.85,1.5 l-0.85,-1.5 Z" fill="#2a2a2a"/>
<text x="355.56" y="566.4" font-size="8.2" textLength="20.5" lengthAdjust="spacingAndGlyphs" text-anchor="middle" fill="#2a2a2a" >Color</text>
<line x1="347.16" x2="347.16" y1="504.19" y2="511.52" stroke="#808080" stroke-width="0.65"/>
<line x1="342.96" x2="351.36" y1="511.52" y2="511.52" stroke="#808080" stroke-width="0.7"/>
<line x1="342.96" x2="351.36" y1="504.19" y2="504.19" stroke="#808080" stroke-width="0.7"/>
<rect x="338.75" y="506.79" width="16.81" height="2.42" fill="#a6c0d3" stroke="#74828d" stroke-width="0.5"/>
<line x1="338.75" x2="355.56" y1="508.00" y2="508.00" stroke="#74828d" stroke-width="0.7"/>
<path d="M347.16,500.86 l0.85,1.5 l-0.85,1.5 l-0.85,-1.5 Z" fill="#2a2a2a"/>
<path d="M347.16,510.75 l0.85,1.5 l-0.85,1.5 l-0.85,-1.5 Z" fill="#2a2a2a"/>
<line x1="363.97" x2="363.97" y1="487.51" y2="511.01" stroke="#808080" stroke-width="0.65"/>
<line x1="359.76" x2="368.17" y1="511.01" y2="511.01" stroke="#808080" stroke-width="0.7"/>
<line x1="359.76" x2="368.17" y1="487.51" y2="487.51" stroke="#808080" stroke-width="0.7"/>
<rect x="355.56" y="496.02" width="16.81" height="6.49" fill="#4581b3" stroke="#31608b" stroke-width="0.5"/>
<line x1="355.56" x2="372.37" y1="499.06" y2="499.06" stroke="#31608b" stroke-width="0.7"/>
<path d="M363.97,482.53 l0.85,1.5 l-0.85,1.5 l-0.85,-1.5 Z" fill="#2a2a2a"/>
<path d="M363.97,510.02 l0.85,1.5 l-0.85,1.5 l-0.85,-1.5 Z" fill="#2a2a2a"/>
<text x="397.59" y="566.4" font-size="8.2" textLength="50" lengthAdjust="spacingAndGlyphs" text-anchor="middle" fill="#2a2a2a" >Compactness</text>
<line x1="389.18" x2="389.18" y1="442.62" y2="450.31" stroke="#808080" stroke-width="0.65"/>
<line x1="384.98" x2="393.38" y1="450.31" y2="450.31" stroke="#808080" stroke-width="0.7"/>
<line x1="384.98" x2="393.38" y1="442.62" y2="442.62" stroke="#808080" stroke-width="0.7"/>
<rect x="380.78" y="445.29" width="16.81" height="2.42" fill="#a6c0d3" stroke="#74828d" stroke-width="0.5"/>
<line x1="380.78" x2="397.59" y1="446.50" y2="446.50" stroke="#74828d" stroke-width="0.7"/>
<path d="M389.18,438.92 l0.85,1.5 l-0.85,1.5 l-0.85,-1.5 Z" fill="#2a2a2a"/>
<path d="M389.18,450.28 l0.85,1.5 l-0.85,1.5 l-0.85,-1.5 Z" fill="#2a2a2a"/>
<line x1="405.99" x2="405.99" y1="477.51" y2="502.50" stroke="#808080" stroke-width="0.65"/>
<line x1="401.79" x2="410.20" y1="502.50" y2="502.50" stroke="#808080" stroke-width="0.7"/>
<line x1="401.79" x2="410.20" y1="477.51" y2="477.51" stroke="#808080" stroke-width="0.7"/>
<rect x="397.59" y="487.51" width="16.81" height="6.49" fill="#4581b3" stroke="#31608b" stroke-width="0.5"/>
<line x1="397.59" x2="414.40" y1="490.48" y2="490.48" stroke="#31608b" stroke-width="0.7"/>
<path d="M405.99,475.20 l0.85,1.5 l-0.85,1.5 l-0.85,-1.5 Z" fill="#2a2a2a"/>
<path d="M405.99,501.59 l0.85,1.5 l-0.85,1.5 l-0.85,-1.5 Z" fill="#2a2a2a"/>
<line x1="263.11" y1="344.03" x2="279.92" y2="455.45" stroke="#111" stroke-width="0.95"/>
<line x1="305.13" y1="416.01" x2="321.94" y2="513.50" stroke="#111" stroke-width="0.95"/>
<line x1="347.16" y1="508.00" x2="363.97" y2="499.06" stroke="#111" stroke-width="0.95"/>
<line x1="389.18" y1="446.50" x2="405.99" y2="490.48" stroke="#111" stroke-width="0.95"/>
<line x1="468.6" x2="637.1" y1="518.85" y2="518.85" stroke="#d2d2d2" stroke-width="1"/>
<line x1="468.6" x2="637.1" y1="482.20" y2="482.20" stroke="#d2d2d2" stroke-width="1"/>
<line x1="468.6" x2="637.1" y1="445.55" y2="445.55" stroke="#d2d2d2" stroke-width="1"/>
<line x1="468.6" x2="637.1" y1="408.90" y2="408.90" stroke="#d2d2d2" stroke-width="1"/>
<line x1="468.6" x2="637.1" y1="372.25" y2="372.25" stroke="#d2d2d2" stroke-width="1"/>
<line x1="468.6" x2="637.1" y1="335.60" y2="335.60" stroke="#d2d2d2" stroke-width="1"/>
<line x1="468.6" x2="637.1" y1="298.95" y2="298.95" stroke="#d2d2d2" stroke-width="1"/>
<line x1="468.6" x2="637.1" y1="262.30" y2="262.30" stroke="#d2d2d2" stroke-width="1"/>
<line x1="468.6" x2="468.6" y1="259.80" y2="556.10" stroke="#c9c9c9" stroke-width="1.3"/>
<line x1="468.0" x2="637.1" y1="555.50" y2="555.50" stroke="#c9c9c9" stroke-width="1.3"/>
<text x="463.0" y="560.85" font-size="8.2" textLength="4.8" lengthAdjust="spacingAndGlyphs" text-anchor="end" fill="#2a2a2a" >0</text>
<text x="463.0" y="523.8" font-size="8.2" textLength="9.6" lengthAdjust="spacingAndGlyphs" text-anchor="end" fill="#2a2a2a" >0.1</text>
<text x="463.0" y="486.75" font-size="8.2" textLength="11.2" lengthAdjust="spacingAndGlyphs" text-anchor="end" fill="#2a2a2a" >0.2</text>
<text x="463.0" y="449.7" font-size="8.2" textLength="11.2" lengthAdjust="spacingAndGlyphs" text-anchor="end" fill="#2a2a2a" >0.3</text>
<text x="463.0" y="412.65" font-size="8.2" textLength="11.2" lengthAdjust="spacingAndGlyphs" text-anchor="end" fill="#2a2a2a" >0.4</text>
<text x="463.0" y="375.6" font-size="8.2" textLength="11.2" lengthAdjust="spacingAndGlyphs" text-anchor="end" fill="#2a2a2a" >0.5</text>
<text x="463.0" y="338.55" font-size="8.2" textLength="11.2" lengthAdjust="spacingAndGlyphs" text-anchor="end" fill="#2a2a2a" >0.6</text>
<text x="463.0" y="301.5" font-size="8.2" textLength="11.2" lengthAdjust="spacingAndGlyphs" text-anchor="end" fill="#2a2a2a" >0.7</text>
<text x="463.0" y="264.45" font-size="8.2" textLength="11.2" lengthAdjust="spacingAndGlyphs" text-anchor="end" fill="#2a2a2a" >0.8</text>
<text x="477" y="281.8" font-size="8.0" textLength="19.2" lengthAdjust="spacingAndGlyphs" fill="#2a2a2a" >Adult</text>
<text x="489.6" y="566.4" font-size="8.2" textLength="14.6" lengthAdjust="spacingAndGlyphs" text-anchor="middle" fill="#2a2a2a" >Size</text>
<line x1="481.20" x2="481.20" y1="342.93" y2="352.83" stroke="#808080" stroke-width="0.65"/>
<line x1="477.00" x2="485.40" y1="352.83" y2="352.83" stroke="#808080" stroke-width="0.7"/>
<line x1="477.00" x2="485.40" y1="342.93" y2="342.93" stroke="#808080" stroke-width="0.7"/>
<rect x="472.80" y="346.85" width="16.80" height="2.42" fill="#a6c0d3" stroke="#74828d" stroke-width="0.5"/>
<line x1="472.80" x2="489.60" y1="348.06" y2="348.06" stroke="#74828d" stroke-width="0.7"/>
<path d="M481.20,339.60 l0.85,1.5 l-0.85,1.5 l-0.85,-1.5 Z" fill="#2a2a2a"/>
<path d="M481.20,353.16 l0.85,1.5 l-0.85,1.5 l-0.85,-1.5 Z" fill="#2a2a2a"/>
<line x1="498.00" x2="498.00" y1="429.06" y2="456.00" stroke="#808080" stroke-width="0.65"/>
<line x1="493.80" x2="502.20" y1="456.00" y2="456.00" stroke="#808080" stroke-width="0.7"/>
<line x1="493.80" x2="502.20" y1="429.06" y2="429.06" stroke="#808080" stroke-width="0.7"/>
<rect x="489.60" y="438.99" width="16.80" height="7.00" fill="#4581b3" stroke="#31608b" stroke-width="0.5"/>
<line x1="489.60" x2="506.40" y1="442.43" y2="442.43" stroke="#31608b" stroke-width="0.7"/>
<path d="M498.00,424.99 l0.85,1.5 l-0.85,1.5 l-0.85,-1.5 Z" fill="#2a2a2a"/>
<path d="M498.00,455.05 l0.85,1.5 l-0.85,1.5 l-0.85,-1.5 Z" fill="#2a2a2a"/>
<text x="531.6" y="566.4" font-size="8.2" textLength="38.5" lengthAdjust="spacingAndGlyphs" text-anchor="middle" fill="#2a2a2a" >Elongation</text>
<line x1="523.20" x2="523.20" y1="399.74" y2="407.43" stroke="#808080" stroke-width="0.65"/>
<line x1="519.00" x2="527.40" y1="407.43" y2="407.43" stroke="#808080" stroke-width="0.7"/>
<line x1="519.00" x2="527.40" y1="399.74" y2="399.74" stroke="#808080" stroke-width="0.7"/>
<rect x="514.80" y="402.30" width="16.80" height="2.42" fill="#a6c0d3" stroke="#74828d" stroke-width="0.5"/>
<line x1="514.80" x2="531.60" y1="403.51" y2="403.51" stroke="#74828d" stroke-width="0.7"/>
<path d="M523.20,396.41 l0.85,1.5 l-0.85,1.5 l-0.85,-1.5 Z" fill="#2a2a2a"/>
<path d="M523.20,407.40 l0.85,1.5 l-0.85,1.5 l-0.85,-1.5 Z" fill="#2a2a2a"/>
<line x1="540.00" x2="540.00" y1="504.01" y2="522.51" stroke="#808080" stroke-width="0.65"/>
<line x1="535.80" x2="544.20" y1="522.51" y2="522.51" stroke="#808080" stroke-width="0.7"/>
<line x1="535.80" x2="544.20" y1="504.01" y2="504.01" stroke="#808080" stroke-width="0.7"/>
<rect x="531.60" y="511.01" width="16.80" height="5.50" fill="#4581b3" stroke="#31608b" stroke-width="0.5"/>
<line x1="531.60" x2="548.40" y1="513.90" y2="513.90" stroke="#31608b" stroke-width="0.7"/>
<path d="M540.00,500.86 l0.85,1.5 l-0.85,1.5 l-0.85,-1.5 Z" fill="#2a2a2a"/>
<path d="M540.00,522.11 l0.85,1.5 l-0.85,1.5 l-0.85,-1.5 Z" fill="#2a2a2a"/>
<path d="M540.00,523.58 l0.85,1.5 l-0.85,1.5 l-0.85,-1.5 Z" fill="#2a2a2a"/>
<text x="573.6" y="566.4" font-size="8.2" textLength="20.5" lengthAdjust="spacingAndGlyphs" text-anchor="middle" fill="#2a2a2a" >Color</text>
<line x1="565.20" x2="565.20" y1="506.02" y2="513.35" stroke="#808080" stroke-width="0.65"/>
<line x1="561.00" x2="569.40" y1="513.35" y2="513.35" stroke="#808080" stroke-width="0.7"/>
<line x1="561.00" x2="569.40" y1="506.02" y2="506.02" stroke="#808080" stroke-width="0.7"/>
<rect x="556.80" y="508.81" width="16.80" height="2.42" fill="#a6c0d3" stroke="#74828d" stroke-width="0.5"/>
<line x1="556.80" x2="573.60" y1="510.02" y2="510.02" stroke="#74828d" stroke-width="0.7"/>
<path d="M565.20,502.69 l0.85,1.5 l-0.85,1.5 l-0.85,-1.5 Z" fill="#2a2a2a"/>
<path d="M565.20,512.95 l0.85,1.5 l-0.85,1.5 l-0.85,-1.5 Z" fill="#2a2a2a"/>
<line x1="582.00" x2="582.00" y1="488.06" y2="506.50" stroke="#808080" stroke-width="0.65"/>
<line x1="577.80" x2="586.20" y1="506.50" y2="506.50" stroke="#808080" stroke-width="0.7"/>
<line x1="577.80" x2="586.20" y1="488.06" y2="488.06" stroke="#808080" stroke-width="0.7"/>
<rect x="573.60" y="494.00" width="16.80" height="6.01" fill="#4581b3" stroke="#31608b" stroke-width="0.5"/>
<line x1="573.60" x2="590.40" y1="496.86" y2="496.86" stroke="#31608b" stroke-width="0.7"/>
<path d="M582.00,484.37 l0.85,1.5 l-0.85,1.5 l-0.85,-1.5 Z" fill="#2a2a2a"/>
<text x="615.6" y="566.4" font-size="8.2" textLength="50" lengthAdjust="spacingAndGlyphs" text-anchor="middle" fill="#2a2a2a" >Compactness</text>
<line x1="607.20" x2="607.20" y1="447.38" y2="455.45" stroke="#808080" stroke-width="0.65"/>
<line x1="603.00" x2="611.40" y1="455.45" y2="455.45" stroke="#808080" stroke-width="0.7"/>
<line x1="603.00" x2="611.40" y1="447.38" y2="447.38" stroke="#808080" stroke-width="0.7"/>
<rect x="598.80" y="450.28" width="16.80" height="2.42" fill="#a6c0d3" stroke="#74828d" stroke-width="0.5"/>
<line x1="598.80" x2="615.60" y1="451.49" y2="451.49" stroke="#74828d" stroke-width="0.7"/>
<path d="M607.20,444.05 l0.85,1.5 l-0.85,1.5 l-0.85,-1.5 Z" fill="#2a2a2a"/>
<path d="M607.20,455.78 l0.85,1.5 l-0.85,1.5 l-0.85,-1.5 Z" fill="#2a2a2a"/>
<line x1="624.00" x2="624.00" y1="472.49" y2="494.00" stroke="#808080" stroke-width="0.65"/>
<line x1="619.80" x2="628.20" y1="494.00" y2="494.00" stroke="#808080" stroke-width="0.7"/>
<line x1="619.80" x2="628.20" y1="472.49" y2="472.49" stroke="#808080" stroke-width="0.7"/>
<rect x="615.60" y="480.99" width="16.80" height="5.50" fill="#4581b3" stroke="#31608b" stroke-width="0.5"/>
<line x1="615.60" x2="632.40" y1="483.67" y2="483.67" stroke="#31608b" stroke-width="0.7"/>
<path d="M624.00,468.97 l0.85,1.5 l-0.85,1.5 l-0.85,-1.5 Z" fill="#2a2a2a"/>
<path d="M624.00,495.36 l0.85,1.5 l-0.85,1.5 l-0.85,-1.5 Z" fill="#2a2a2a"/>
<path d="M624.00,497.19 l0.85,1.5 l-0.85,1.5 l-0.85,-1.5 Z" fill="#2a2a2a"/>
<line x1="481.20" y1="348.06" x2="498.00" y2="442.43" stroke="#111" stroke-width="0.95"/>
<line x1="523.20" y1="403.51" x2="540.00" y2="513.90" stroke="#111" stroke-width="0.95"/>
<line x1="565.20" y1="510.02" x2="582.00" y2="496.86" stroke="#111" stroke-width="0.95"/>
<line x1="607.20" y1="451.49" x2="624.00" y2="483.67" stroke="#111" stroke-width="0.95"/>
<line x1="32.1" x2="200.8" y1="859.29" y2="859.29" stroke="#d2d2d2" stroke-width="1"/>
<line x1="32.1" x2="200.8" y1="822.58" y2="822.58" stroke="#d2d2d2" stroke-width="1"/>
<line x1="32.1" x2="200.8" y1="785.86" y2="785.86" stroke="#d2d2d2" stroke-width="1"/>
<line x1="32.1" x2="200.8" y1="749.15" y2="749.15" stroke="#d2d2d2" stroke-width="1"/>
<line x1="32.1" x2="200.8" y1="712.44" y2="712.44" stroke="#d2d2d2" stroke-width="1"/>
<line x1="32.1" x2="200.8" y1="675.72" y2="675.72" stroke="#d2d2d2" stroke-width="1"/>
<line x1="32.1" x2="200.8" y1="639.01" y2="639.01" stroke="#d2d2d2" stroke-width="1"/>
<line x1="32.1" x2="200.8" y1="602.30" y2="602.30" stroke="#d2d2d2" stroke-width="1"/>
<line x1="32.1" x2="32.1" y1="599.80" y2="896.60" stroke="#c9c9c9" stroke-width="1.3"/>
<line x1="31.5" x2="200.8" y1="896.00" y2="896.00" stroke="#c9c9c9" stroke-width="1.3"/>
<text x="27.9" y="898.95" font-size="8.2" textLength="4.8" lengthAdjust="spacingAndGlyphs" text-anchor="end" fill="#2a2a2a" >0</text>
<text x="27.9" y="862.24" font-size="8.2" textLength="9.6" lengthAdjust="spacingAndGlyphs" text-anchor="end" fill="#2a2a2a" >0.1</text>
<text x="27.9" y="825.53" font-size="8.2" textLength="11.2" lengthAdjust="spacingAndGlyphs" text-anchor="end" fill="#2a2a2a" >0.2</text>
<text x="27.9" y="788.81" font-size="8.2" textLength="11.2" lengthAdjust="spacingAndGlyphs" text-anchor="end" fill="#2a2a2a" >0.3</text>
<text x="27.9" y="752.1" font-size="8.2" textLength="11.2" lengthAdjust="spacingAndGlyphs" text-anchor="end" fill="#2a2a2a" >0.4</text>
<text x="27.9" y="715.39" font-size="8.2" textLength="11.2" lengthAdjust="spacingAndGlyphs" text-anchor="end" fill="#2a2a2a" >0.5</text>
<text x="27.9" y="678.67" font-size="8.2" textLength="11.2" lengthAdjust="spacingAndGlyphs" text-anchor="end" fill="#2a2a2a" >0.6</text>
<text x="27.9" y="641.96" font-size="8.2" textLength="11.2" lengthAdjust="spacingAndGlyphs" text-anchor="end" fill="#2a2a2a" >0.7</text>
<text x="27.9" y="605.25" font-size="8.2" textLength="11.2" lengthAdjust="spacingAndGlyphs" text-anchor="end" fill="#2a2a2a" >0.8</text>
<text x="37.3" y="616.8" font-size="8.0" textLength="17.8" lengthAdjust="spacingAndGlyphs" fill="#2a2a2a" >2 mo</text>
<text x="60.13" y="908.0" font-size="8.2" textLength="33.3" lengthAdjust="spacingAndGlyphs" text-anchor="middle" fill="#2a2a2a" >Category</text>
<line x1="48.92" x2="48.92" y1="817.80" y2="827.35" stroke="#808080" stroke-width="0.65"/>
<line x1="43.31" x2="54.53" y1="827.35" y2="827.35" stroke="#808080" stroke-width="0.7"/>
<line x1="43.31" x2="54.53" y1="817.80" y2="817.80" stroke="#808080" stroke-width="0.7"/>
<rect x="37.71" y="821.55" width="22.43" height="2.42" fill="#a6c0d3" stroke="#74828d" stroke-width="0.5"/>
<line x1="37.71" x2="60.13" y1="822.76" y2="822.76" stroke="#74828d" stroke-width="0.7"/>
<path d="M48.92,828.42 l0.85,1.5 l-0.85,1.5 l-0.85,-1.5 Z" fill="#2a2a2a"/>
<path d="M48.92,815.57 l0.85,1.5 l-0.85,1.5 l-0.85,-1.5 Z" fill="#2a2a2a"/>
<line x1="71.35" x2="71.35" y1="813.03" y2="856.35" stroke="#808080" stroke-width="0.65"/>
<line x1="65.74" x2="76.95" y1="856.35" y2="856.35" stroke="#808080" stroke-width="0.7"/>
<line x1="65.74" x2="76.95" y1="813.03" y2="813.03" stroke="#808080" stroke-width="0.7"/>
<rect x="60.13" y="829.37" width="22.43" height="11.20" fill="#4581b3" stroke="#31608b" stroke-width="0.5"/>
<line x1="60.13" x2="82.56" y1="835.06" y2="835.06" stroke="#31608b" stroke-width="0.7"/>
<path d="M71.35,802.46 l0.85,1.5 l-0.85,1.5 l-0.85,-1.5 Z" fill="#2a2a2a"/>
<path d="M71.35,858.89 l0.85,1.5 l-0.85,1.5 l-0.85,-1.5 Z" fill="#2a2a2a"/>
<text x="116.2" y="908.0" font-size="8.2" textLength="31" lengthAdjust="spacingAndGlyphs" text-anchor="middle" fill="#2a2a2a" >Animacy</text>
<line x1="104.99" x2="104.99" y1="838.36" y2="848.27" stroke="#808080" stroke-width="0.65"/>
<line x1="99.38" x2="110.59" y1="848.27" y2="848.27" stroke="#808080" stroke-width="0.7"/>
<line x1="99.38" x2="110.59" y1="838.36" y2="838.36" stroke="#808080" stroke-width="0.7"/>
<rect x="93.77" y="842.25" width="22.43" height="2.42" fill="#a6c0d3" stroke="#74828d" stroke-width="0.5"/>
<line x1="93.77" x2="116.20" y1="843.46" y2="843.46" stroke="#74828d" stroke-width="0.7"/>
<path d="M104.99,847.88 l0.85,1.5 l-0.85,1.5 l-0.85,-1.5 Z" fill="#2a2a2a"/>
<line x1="127.41" x2="127.41" y1="774.33" y2="820.08" stroke="#808080" stroke-width="0.65"/>
<line x1="121.81" x2="133.02" y1="820.08" y2="820.08" stroke="#808080" stroke-width="0.7"/>
<line x1="121.81" x2="133.02" y1="774.33" y2="774.33" stroke="#808080" stroke-width="0.7"/>
<rect x="116.20" y="790.71" width="22.43" height="13.00" fill="#4581b3" stroke="#31608b" stroke-width="0.5"/>
<line x1="116.20" x2="138.63" y1="797.06" y2="797.06" stroke="#31608b" stroke-width="0.7"/>
<path d="M127.41,819.97 l0.85,1.5 l-0.85,1.5 l-0.85,-1.5 Z" fill="#2a2a2a"/>
<path d="M127.41,822.18 l0.85,1.5 l-0.85,1.5 l-0.85,-1.5 Z" fill="#2a2a2a"/>
<path d="M127.41,824.75 l0.85,1.5 l-0.85,1.5 l-0.85,-1.5 Z" fill="#2a2a2a"/>
<text x="172.27" y="908.0" font-size="8.2" textLength="36.5" lengthAdjust="spacingAndGlyphs" text-anchor="middle" fill="#2a2a2a" >Inanimate</text>
<text x="172.27" y="917.1" font-size="8.2" textLength="45.5" lengthAdjust="spacingAndGlyphs" text-anchor="middle" fill="#2a2a2a" >big vs. small</text>
<line x1="161.05" x2="161.05" y1="860.02" y2="868.83" stroke="#808080" stroke-width="0.65"/>
<line x1="155.45" x2="166.66" y1="868.83" y2="868.83" stroke="#808080" stroke-width="0.7"/>
<line x1="155.45" x2="166.66" y1="860.02" y2="860.02" stroke="#808080" stroke-width="0.7"/>
<rect x="149.84" y="863.40" width="22.43" height="2.42" fill="#a6c0d3" stroke="#74828d" stroke-width="0.5"/>
<line x1="149.84" x2="172.27" y1="864.61" y2="864.61" stroke="#74828d" stroke-width="0.7"/>
<path d="M161.05,868.43 l0.85,1.5 l-0.85,1.5 l-0.85,-1.5 Z" fill="#2a2a2a"/>
<line x1="183.48" x2="183.48" y1="831.57" y2="872.50" stroke="#808080" stroke-width="0.65"/>
<line x1="177.87" x2="189.09" y1="872.50" y2="872.50" stroke="#808080" stroke-width="0.7"/>
<line x1="177.87" x2="189.09" y1="831.57" y2="831.57" stroke="#808080" stroke-width="0.7"/>
<rect x="172.27" y="847.76" width="22.43" height="9.21" fill="#4581b3" stroke="#31608b" stroke-width="0.5"/>
<line x1="172.27" x2="194.69" y1="852.68" y2="852.68" stroke="#31608b" stroke-width="0.7"/>
<path d="M183.48,821.08 l0.85,1.5 l-0.85,1.5 l-0.85,-1.5 Z" fill="#2a2a2a"/>
<path d="M183.48,828.42 l0.85,1.5 l-0.85,1.5 l-0.85,-1.5 Z" fill="#2a2a2a"/>
<path d="M183.48,872.84 l0.85,1.5 l-0.85,1.5 l-0.85,-1.5 Z" fill="#2a2a2a"/>
<path d="M183.48,875.41 l0.85,1.5 l-0.85,1.5 l-0.85,-1.5 Z" fill="#2a2a2a"/>
<path d="M183.48,877.98 l0.85,1.5 l-0.85,1.5 l-0.85,-1.5 Z" fill="#2a2a2a"/>
<line x1="48.92" y1="822.76" x2="71.35" y2="835.06" stroke="#111" stroke-width="0.95"/>
<line x1="104.99" y1="843.46" x2="127.41" y2="797.06" stroke="#111" stroke-width="0.95"/>
<line x1="161.05" y1="864.61" x2="183.48" y2="852.68" stroke="#111" stroke-width="0.95"/>
<line x1="250.5" x2="419.1" y1="859.29" y2="859.29" stroke="#d2d2d2" stroke-width="1"/>
<line x1="250.5" x2="419.1" y1="822.58" y2="822.58" stroke="#d2d2d2" stroke-width="1"/>
<line x1="250.5" x2="419.1" y1="785.86" y2="785.86" stroke="#d2d2d2" stroke-width="1"/>
<line x1="250.5" x2="419.1" y1="749.15" y2="749.15" stroke="#d2d2d2" stroke-width="1"/>
<line x1="250.5" x2="419.1" y1="712.44" y2="712.44" stroke="#d2d2d2" stroke-width="1"/>
<line x1="250.5" x2="419.1" y1="675.72" y2="675.72" stroke="#d2d2d2" stroke-width="1"/>
<line x1="250.5" x2="419.1" y1="639.01" y2="639.01" stroke="#d2d2d2" stroke-width="1"/>
<line x1="250.5" x2="419.1" y1="602.30" y2="602.30" stroke="#d2d2d2" stroke-width="1"/>
<line x1="250.5" x2="250.5" y1="599.80" y2="896.60" stroke="#c9c9c9" stroke-width="1.3"/>
<line x1="249.9" x2="419.1" y1="896.00" y2="896.00" stroke="#c9c9c9" stroke-width="1.3"/>
<text x="245.0" y="898.95" font-size="8.2" textLength="4.8" lengthAdjust="spacingAndGlyphs" text-anchor="end" fill="#2a2a2a" >0</text>
<text x="245.0" y="862.24" font-size="8.2" textLength="9.6" lengthAdjust="spacingAndGlyphs" text-anchor="end" fill="#2a2a2a" >0.1</text>
<text x="245.0" y="825.53" font-size="8.2" textLength="11.2" lengthAdjust="spacingAndGlyphs" text-anchor="end" fill="#2a2a2a" >0.2</text>
<text x="245.0" y="788.81" font-size="8.2" textLength="11.2" lengthAdjust="spacingAndGlyphs" text-anchor="end" fill="#2a2a2a" >0.3</text>
<text x="245.0" y="752.1" font-size="8.2" textLength="11.2" lengthAdjust="spacingAndGlyphs" text-anchor="end" fill="#2a2a2a" >0.4</text>
<text x="245.0" y="715.39" font-size="8.2" textLength="11.2" lengthAdjust="spacingAndGlyphs" text-anchor="end" fill="#2a2a2a" >0.5</text>
<text x="245.0" y="678.67" font-size="8.2" textLength="11.2" lengthAdjust="spacingAndGlyphs" text-anchor="end" fill="#2a2a2a" >0.6</text>
<text x="245.0" y="641.96" font-size="8.2" textLength="11.2" lengthAdjust="spacingAndGlyphs" text-anchor="end" fill="#2a2a2a" >0.7</text>
<text x="245.0" y="605.25" font-size="8.2" textLength="11.2" lengthAdjust="spacingAndGlyphs" text-anchor="end" fill="#2a2a2a" >0.8</text>
<text x="256.8" y="616.8" font-size="8.0" textLength="18.3" lengthAdjust="spacingAndGlyphs" fill="#2a2a2a" >9 mo</text>
<text x="278.52" y="908.0" font-size="8.2" textLength="33.3" lengthAdjust="spacingAndGlyphs" text-anchor="middle" fill="#2a2a2a" >Category</text>
<line x1="267.31" x2="267.31" y1="828.96" y2="837.48" stroke="#808080" stroke-width="0.65"/>
<line x1="261.71" x2="272.91" y1="837.48" y2="837.48" stroke="#808080" stroke-width="0.7"/>
<line x1="261.71" x2="272.91" y1="828.96" y2="828.96" stroke="#808080" stroke-width="0.7"/>
<rect x="256.10" y="831.75" width="22.41" height="2.42" fill="#a6c0d3" stroke="#74828d" stroke-width="0.5"/>
<line x1="256.10" x2="278.52" y1="832.96" y2="832.96" stroke="#74828d" stroke-width="0.7"/>
<path d="M267.31,825.48 l0.85,1.5 l-0.85,1.5 l-0.85,-1.5 Z" fill="#2a2a2a"/>
<line x1="289.72" x2="289.72" y1="779.99" y2="803.48" stroke="#808080" stroke-width="0.65"/>
<line x1="284.12" x2="295.33" y1="803.48" y2="803.48" stroke="#808080" stroke-width="0.7"/>
<line x1="284.12" x2="295.33" y1="779.99" y2="779.99" stroke="#808080" stroke-width="0.7"/>
<rect x="278.52" y="788.47" width="22.41" height="6.50" fill="#4581b3" stroke="#31608b" stroke-width="0.5"/>
<line x1="278.52" x2="300.93" y1="791.74" y2="791.74" stroke="#31608b" stroke-width="0.7"/>
<path d="M289.72,776.29 l0.85,1.5 l-0.85,1.5 l-0.85,-1.5 Z" fill="#2a2a2a"/>
<path d="M289.72,804.55 l0.85,1.5 l-0.85,1.5 l-0.85,-1.5 Z" fill="#2a2a2a"/>
<path d="M289.72,806.39 l0.85,1.5 l-0.85,1.5 l-0.85,-1.5 Z" fill="#2a2a2a"/>
<text x="334.55" y="908.0" font-size="8.2" textLength="31" lengthAdjust="spacingAndGlyphs" text-anchor="middle" fill="#2a2a2a" >Animacy</text>
<line x1="323.34" x2="323.34" y1="799.96" y2="810.97" stroke="#808080" stroke-width="0.65"/>
<line x1="317.74" x2="328.95" y1="810.97" y2="810.97" stroke="#808080" stroke-width="0.7"/>
<line x1="317.74" x2="328.95" y1="799.96" y2="799.96" stroke="#808080" stroke-width="0.7"/>
<rect x="312.14" y="804.77" width="22.41" height="2.42" fill="#a6c0d3" stroke="#74828d" stroke-width="0.5"/>
<line x1="312.14" x2="334.55" y1="805.98" y2="805.98" stroke="#74828d" stroke-width="0.7"/>
<path d="M323.34,796.48 l0.85,1.5 l-0.85,1.5 l-0.85,-1.5 Z" fill="#2a2a2a"/>
<path d="M323.34,813.00 l0.85,1.5 l-0.85,1.5 l-0.85,-1.5 Z" fill="#2a2a2a"/>
<line x1="345.76" x2="345.76" y1="646.35" y2="680.94" stroke="#808080" stroke-width="0.65"/>
<line x1="340.15" x2="351.36" y1="680.94" y2="680.94" stroke="#808080" stroke-width="0.7"/>
<line x1="340.15" x2="351.36" y1="646.35" y2="646.35" stroke="#808080" stroke-width="0.7"/>
<rect x="334.55" y="661.04" width="22.41" height="7.89" fill="#4581b3" stroke="#31608b" stroke-width="0.5"/>
<line x1="334.55" x2="356.96" y1="664.89" y2="664.89" stroke="#31608b" stroke-width="0.7"/>
<path d="M345.76,682.30 l0.85,1.5 l-0.85,1.5 l-0.85,-1.5 Z" fill="#2a2a2a"/>
<text x="390.58" y="908.0" font-size="8.2" textLength="36.5" lengthAdjust="spacingAndGlyphs" text-anchor="middle" fill="#2a2a2a" >Inanimate</text>
<text x="390.58" y="917.1" font-size="8.2" textLength="45.5" lengthAdjust="spacingAndGlyphs" text-anchor="middle" fill="#2a2a2a" >big vs. small</text>
<line x1="379.38" x2="379.38" y1="854.88" y2="862.96" stroke="#808080" stroke-width="0.65"/>
<line x1="373.77" x2="384.98" y1="862.96" y2="862.96" stroke="#808080" stroke-width="0.7"/>
<line x1="373.77" x2="384.98" y1="854.88" y2="854.88" stroke="#808080" stroke-width="0.7"/>
<rect x="368.17" y="857.78" width="22.41" height="2.42" fill="#a6c0d3" stroke="#74828d" stroke-width="0.5"/>
<line x1="368.17" x2="390.58" y1="858.99" y2="858.99" stroke="#74828d" stroke-width="0.7"/>
<path d="M379.38,851.55 l0.85,1.5 l-0.85,1.5 l-0.85,-1.5 Z" fill="#2a2a2a"/>
<path d="M379.38,864.03 l0.85,1.5 l-0.85,1.5 l-0.85,-1.5 Z" fill="#2a2a2a"/>
<line x1="401.79" x2="401.79" y1="757.45" y2="784.03" stroke="#808080" stroke-width="0.65"/>
<line x1="396.19" x2="407.39" y1="784.03" y2="784.03" stroke="#808080" stroke-width="0.7"/>
<line x1="396.19" x2="407.39" y1="757.45" y2="757.45" stroke="#808080" stroke-width="0.7"/>
<rect x="390.58" y="767.51" width="22.41" height="6.46" fill="#4581b3" stroke="#31608b" stroke-width="0.5"/>
<line x1="390.58" x2="413.00" y1="770.81" y2="770.81" stroke="#31608b" stroke-width="0.7"/>
<path d="M401.79,754.99 l0.85,1.5 l-0.85,1.5 l-0.85,-1.5 Z" fill="#2a2a2a"/>
<path d="M401.79,784.36 l0.85,1.5 l-0.85,1.5 l-0.85,-1.5 Z" fill="#2a2a2a"/>
<line x1="267.31" y1="832.96" x2="289.72" y2="791.74" stroke="#111" stroke-width="0.95"/>
<line x1="323.34" y1="805.98" x2="345.76" y2="664.89" stroke="#111" stroke-width="0.95"/>
<line x1="379.38" y1="858.99" x2="401.79" y2="770.81" stroke="#111" stroke-width="0.95"/>
<line x1="468.6" x2="637.1" y1="859.29" y2="859.29" stroke="#d2d2d2" stroke-width="1"/>
<line x1="468.6" x2="637.1" y1="822.58" y2="822.58" stroke="#d2d2d2" stroke-width="1"/>
<line x1="468.6" x2="637.1" y1="785.86" y2="785.86" stroke="#d2d2d2" stroke-width="1"/>
<line x1="468.6" x2="637.1" y1="749.15" y2="749.15" stroke="#d2d2d2" stroke-width="1"/>
<line x1="468.6" x2="637.1" y1="712.44" y2="712.44" stroke="#d2d2d2" stroke-width="1"/>
<line x1="468.6" x2="637.1" y1="675.72" y2="675.72" stroke="#d2d2d2" stroke-width="1"/>
<line x1="468.6" x2="637.1" y1="639.01" y2="639.01" stroke="#d2d2d2" stroke-width="1"/>
<line x1="468.6" x2="637.1" y1="602.30" y2="602.30" stroke="#d2d2d2" stroke-width="1"/>
<line x1="468.6" x2="468.6" y1="599.80" y2="896.60" stroke="#c9c9c9" stroke-width="1.3"/>
<line x1="468.0" x2="637.1" y1="896.00" y2="896.00" stroke="#c9c9c9" stroke-width="1.3"/>
<text x="463.0" y="900.45" font-size="8.2" textLength="4.8" lengthAdjust="spacingAndGlyphs" text-anchor="end" fill="#2a2a2a" >0</text>
<text x="463.0" y="863.58" font-size="8.2" textLength="9.6" lengthAdjust="spacingAndGlyphs" text-anchor="end" fill="#2a2a2a" >0.1</text>
<text x="463.0" y="826.7" font-size="8.2" textLength="11.2" lengthAdjust="spacingAndGlyphs" text-anchor="end" fill="#2a2a2a" >0.2</text>
<text x="463.0" y="789.83" font-size="8.2" textLength="11.2" lengthAdjust="spacingAndGlyphs" text-anchor="end" fill="#2a2a2a" >0.3</text>
<text x="463.0" y="752.95" font-size="8.2" textLength="11.2" lengthAdjust="spacingAndGlyphs" text-anchor="end" fill="#2a2a2a" >0.4</text>
<text x="463.0" y="716.08" font-size="8.2" textLength="11.2" lengthAdjust="spacingAndGlyphs" text-anchor="end" fill="#2a2a2a" >0.5</text>
<text x="463.0" y="679.2" font-size="8.2" textLength="11.2" lengthAdjust="spacingAndGlyphs" text-anchor="end" fill="#2a2a2a" >0.6</text>
<text x="463.0" y="642.33" font-size="8.2" textLength="11.2" lengthAdjust="spacingAndGlyphs" text-anchor="end" fill="#2a2a2a" >0.7</text>
<text x="463.0" y="605.45" font-size="8.2" textLength="11.2" lengthAdjust="spacingAndGlyphs" text-anchor="end" fill="#2a2a2a" >0.8</text>
<text x="477" y="616.8" font-size="8.0" textLength="19.2" lengthAdjust="spacingAndGlyphs" fill="#2a2a2a" >Adult</text>
<text x="496.6" y="908.0" font-size="8.2" textLength="33.3" lengthAdjust="spacingAndGlyphs" text-anchor="middle" fill="#2a2a2a" >Category</text>
<line x1="485.40" x2="485.40" y1="839.98" y2="853.41" stroke="#808080" stroke-width="0.65"/>
<line x1="479.80" x2="491.00" y1="853.41" y2="853.41" stroke="#808080" stroke-width="0.7"/>
<line x1="479.80" x2="491.00" y1="839.98" y2="839.98" stroke="#808080" stroke-width="0.7"/>
<rect x="474.20" y="845.34" width="22.40" height="3.30" fill="#a6c0d3" stroke="#74828d" stroke-width="0.5"/>
<line x1="474.20" x2="496.60" y1="846.99" y2="846.99" stroke="#74828d" stroke-width="0.7"/>
<path d="M485.40,837.60 l0.85,1.5 l-0.85,1.5 l-0.85,-1.5 Z" fill="#2a2a2a"/>
<path d="M485.40,854.85 l0.85,1.5 l-0.85,1.5 l-0.85,-1.5 Z" fill="#2a2a2a"/>
<line x1="507.80" x2="507.80" y1="770.96" y2="791.00" stroke="#808080" stroke-width="0.65"/>
<line x1="502.20" x2="513.40" y1="791.00" y2="791.00" stroke="#808080" stroke-width="0.7"/>
<line x1="502.20" x2="513.40" y1="770.96" y2="770.96" stroke="#808080" stroke-width="0.7"/>
<rect x="496.60" y="778.52" width="22.40" height="4.96" fill="#4581b3" stroke="#31608b" stroke-width="0.5"/>
<line x1="496.60" x2="519.00" y1="780.91" y2="780.91" stroke="#31608b" stroke-width="0.7"/>
<path d="M507.80,767.11 l0.85,1.5 l-0.85,1.5 l-0.85,-1.5 Z" fill="#2a2a2a"/>
<path d="M507.80,790.97 l0.85,1.5 l-0.85,1.5 l-0.85,-1.5 Z" fill="#2a2a2a"/>
<text x="552.6" y="908.0" font-size="8.2" textLength="31" lengthAdjust="spacingAndGlyphs" text-anchor="middle" fill="#2a2a2a" >Animacy</text>
<line x1="541.40" x2="541.40" y1="849.01" y2="864.06" stroke="#808080" stroke-width="0.65"/>
<line x1="535.80" x2="547.00" y1="864.06" y2="864.06" stroke="#808080" stroke-width="0.7"/>
<line x1="535.80" x2="547.00" y1="849.01" y2="849.01" stroke="#808080" stroke-width="0.7"/>
<rect x="530.20" y="854.11" width="22.40" height="4.77" fill="#a6c0d3" stroke="#74828d" stroke-width="0.5"/>
<line x1="530.20" x2="552.60" y1="856.50" y2="856.50" stroke="#74828d" stroke-width="0.7"/>
<path d="M541.40,845.67 l0.85,1.5 l-0.85,1.5 l-0.85,-1.5 Z" fill="#2a2a2a"/>
<path d="M541.40,865.13 l0.85,1.5 l-0.85,1.5 l-0.85,-1.5 Z" fill="#2a2a2a"/>
<line x1="563.80" x2="563.80" y1="606.34" y2="653.92" stroke="#808080" stroke-width="0.65"/>
<line x1="558.20" x2="569.40" y1="653.92" y2="653.92" stroke="#808080" stroke-width="0.7"/>
<line x1="558.20" x2="569.40" y1="606.34" y2="606.34" stroke="#808080" stroke-width="0.7"/>
<rect x="552.60" y="623.96" width="22.40" height="11.97" fill="#4581b3" stroke="#31608b" stroke-width="0.5"/>
<line x1="552.60" x2="575.00" y1="629.91" y2="629.91" stroke="#31608b" stroke-width="0.7"/>
<path d="M563.80,655.13 l0.85,1.5 l-0.85,1.5 l-0.85,-1.5 Z" fill="#2a2a2a"/>
<path d="M563.80,656.60 l0.85,1.5 l-0.85,1.5 l-0.85,-1.5 Z" fill="#2a2a2a"/>
<text x="608.6" y="908.0" font-size="8.2" textLength="36.5" lengthAdjust="spacingAndGlyphs" text-anchor="middle" fill="#2a2a2a" >Inanimate</text>
<text x="608.6" y="917.1" font-size="8.2" textLength="45.5" lengthAdjust="spacingAndGlyphs" text-anchor="middle" fill="#2a2a2a" >big vs. small</text>
<line x1="597.40" x2="597.40" y1="879.00" y2="889.02" stroke="#808080" stroke-width="0.65"/>
<line x1="591.80" x2="603.00" y1="889.02" y2="889.02" stroke="#808080" stroke-width="0.7"/>
<line x1="591.80" x2="603.00" y1="879.00" y2="879.00" stroke="#808080" stroke-width="0.7"/>
<rect x="586.20" y="882.53" width="22.40" height="2.94" fill="#a6c0d3" stroke="#74828d" stroke-width="0.5"/>
<line x1="586.20" x2="608.60" y1="884.00" y2="884.00" stroke="#74828d" stroke-width="0.7"/>
<path d="M597.40,876.14 l0.85,1.5 l-0.85,1.5 l-0.85,-1.5 Z" fill="#2a2a2a"/>
<path d="M597.40,888.99 l0.85,1.5 l-0.85,1.5 l-0.85,-1.5 Z" fill="#2a2a2a"/>
<line x1="619.80" x2="619.80" y1="776.46" y2="801.47" stroke="#808080" stroke-width="0.65"/>
<line x1="614.20" x2="625.40" y1="801.47" y2="801.47" stroke="#808080" stroke-width="0.7"/>
<line x1="614.20" x2="625.40" y1="776.46" y2="776.46" stroke="#808080" stroke-width="0.7"/>
<rect x="608.60" y="786.45" width="22.40" height="6.02" fill="#4581b3" stroke="#31608b" stroke-width="0.5"/>
<line x1="608.60" x2="631.00" y1="789.53" y2="789.53" stroke="#31608b" stroke-width="0.7"/>
<path d="M619.80,774.08 l0.85,1.5 l-0.85,1.5 l-0.85,-1.5 Z" fill="#2a2a2a"/>
<path d="M619.80,801.62 l0.85,1.5 l-0.85,1.5 l-0.85,-1.5 Z" fill="#2a2a2a"/>
<line x1="485.40" y1="846.99" x2="507.80" y2="780.91" stroke="#111" stroke-width="0.95"/>
<line x1="541.40" y1="856.50" x2="563.80" y2="629.91" stroke="#111" stroke-width="0.95"/>
<line x1="597.40" y1="884.00" x2="619.80" y2="789.53" stroke="#111" stroke-width="0.95"/>
<text transform="translate(7.3,405.5) rotate(-90)" text-anchor="middle" font-size="9" textLength="170" lengthAdjust="spacingAndGlyphs" fill="#222">Correlation to brain RSM (Spearman’s <tspan font-style="italic">ρ</tspan>)</text>
<text transform="translate(7.3,729.5) rotate(-90)" text-anchor="middle" font-size="9" textLength="170" lengthAdjust="spacingAndGlyphs" fill="#222">Correlation to brain RSM (Spearman’s <tspan font-style="italic">ρ</tspan>)</text>
<text transform="translate(442.5,395) rotate(-90)" text-anchor="middle" font-size="9" textLength="166" lengthAdjust="spacingAndGlyphs" fill="#222">Correlation to brain RSM (Spearman <tspan font-style="italic">ρ</tspan>)</text>
<text x="650.4" y="254.7" font-size="9.2" textLength="14.9" lengthAdjust="spacingAndGlyphs" fill="#222" >ROI</text>
<rect x="641.2" y="263.7" width="8.5" height="7.9" fill="#b0cde1"/>
<rect x="641.2" y="278.1" width="8.5" height="7.9" fill="#4581b3"/>
<text x="654.8" y="270.1" font-size="7.3" textLength="15.1" lengthAdjust="spacingAndGlyphs" fill="#2a2a2a" >EVC</text>
<text x="654.8" y="284.6" font-size="7.3" textLength="15.5" lengthAdjust="spacingAndGlyphs" fill="#2a2a2a" >VVC</text>
</svg>
</body></html>
